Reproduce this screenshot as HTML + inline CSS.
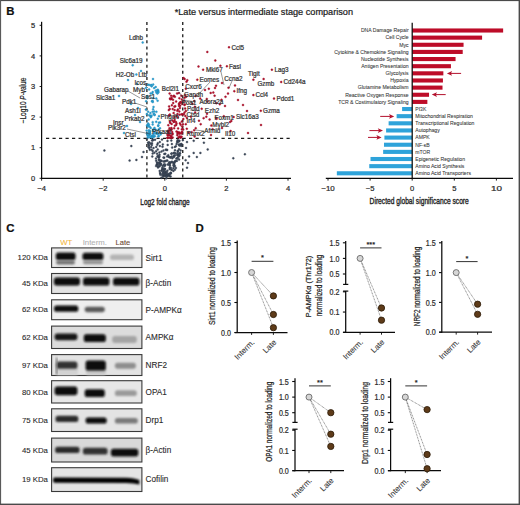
<!DOCTYPE html>
<html><head><meta charset="utf-8"><style>
html,body{margin:0;padding:0;background:#fff;}
svg{display:block;}
text{font-family:"Liberation Sans",sans-serif;}
</style></head><body>
<svg width="520" height="505" viewBox="0 0 520 505">
<rect x="0.00" y="0.00" width="520.00" height="505.00" fill="#fff"/>
<rect x="0.00" y="0.00" width="520.00" height="1.10" fill="#4a4a4a"/>
<rect x="0.00" y="0.00" width="1.10" height="505.00" fill="#5a5a5a"/>
<rect x="518.60" y="0.00" width="1.40" height="505.00" fill="#4a4a4a"/>
<rect x="0.00" y="503.60" width="520.00" height="1.40" fill="#4a4a4a"/>
<text x="6.20" y="14.70" font-size="11.4" font-weight="bold" fill="#111" stroke="#111" stroke-width="0.22">B</text>
<text x="6.20" y="232.20" font-size="11.4" font-weight="bold" fill="#111" stroke="#111" stroke-width="0.22">C</text>
<text x="195.60" y="231.90" font-size="11.4" font-weight="bold" fill="#111" stroke="#111" stroke-width="0.22">D</text>
<text x="174.70" y="14.90" font-size="8.6" textLength="178.3" lengthAdjust="spacingAndGlyphs" fill="#222" stroke="#222" stroke-width="0.22">*Late versus intermediate stage comparison</text>
<line x1="41.60" y1="21.80" x2="41.60" y2="178.80" stroke="#0a0a0a" stroke-width="1.25"/>
<line x1="41.10" y1="178.30" x2="291.00" y2="178.30" stroke="#0a0a0a" stroke-width="1.25"/>
<line x1="39.60" y1="178.30" x2="41.60" y2="178.30" stroke="#0a0a0a" stroke-width="0.9"/>
<text x="35.10" y="180.90" font-size="7.5" text-anchor="end" fill="#2a2a2a" stroke="#2a2a2a" stroke-width="0.22">0</text>
<line x1="39.60" y1="147.70" x2="41.60" y2="147.70" stroke="#0a0a0a" stroke-width="0.9"/>
<text x="35.10" y="150.30" font-size="7.5" text-anchor="end" fill="#2a2a2a" stroke="#2a2a2a" stroke-width="0.22">1</text>
<line x1="39.60" y1="117.10" x2="41.60" y2="117.10" stroke="#0a0a0a" stroke-width="0.9"/>
<text x="35.10" y="119.70" font-size="7.5" text-anchor="end" fill="#2a2a2a" stroke="#2a2a2a" stroke-width="0.22">2</text>
<line x1="39.60" y1="86.50" x2="41.60" y2="86.50" stroke="#0a0a0a" stroke-width="0.9"/>
<text x="35.10" y="89.10" font-size="7.5" text-anchor="end" fill="#2a2a2a" stroke="#2a2a2a" stroke-width="0.22">3</text>
<line x1="39.60" y1="55.90" x2="41.60" y2="55.90" stroke="#0a0a0a" stroke-width="0.9"/>
<text x="35.10" y="58.50" font-size="7.5" text-anchor="end" fill="#2a2a2a" stroke="#2a2a2a" stroke-width="0.22">4</text>
<line x1="39.60" y1="25.30" x2="41.60" y2="25.30" stroke="#0a0a0a" stroke-width="0.9"/>
<text x="35.10" y="27.90" font-size="7.5" text-anchor="end" fill="#2a2a2a" stroke="#2a2a2a" stroke-width="0.22">5</text>
<line x1="41.60" y1="178.30" x2="41.60" y2="180.70" stroke="#0a0a0a" stroke-width="0.9"/>
<text x="41.60" y="191.30" font-size="7.6" text-anchor="middle" fill="#2a2a2a" stroke="#2a2a2a" stroke-width="0.22">−4</text>
<line x1="103.20" y1="178.30" x2="103.20" y2="180.70" stroke="#0a0a0a" stroke-width="0.9"/>
<text x="103.20" y="191.30" font-size="7.6" text-anchor="middle" fill="#2a2a2a" stroke="#2a2a2a" stroke-width="0.22">−2</text>
<line x1="164.80" y1="178.30" x2="164.80" y2="180.70" stroke="#0a0a0a" stroke-width="0.9"/>
<text x="164.80" y="191.30" font-size="7.6" text-anchor="middle" fill="#2a2a2a" stroke="#2a2a2a" stroke-width="0.22">0</text>
<line x1="226.40" y1="178.30" x2="226.40" y2="180.70" stroke="#0a0a0a" stroke-width="0.9"/>
<text x="226.40" y="191.30" font-size="7.6" text-anchor="middle" fill="#2a2a2a" stroke="#2a2a2a" stroke-width="0.22">2</text>
<line x1="288.00" y1="178.30" x2="288.00" y2="180.70" stroke="#0a0a0a" stroke-width="0.9"/>
<text x="288.00" y="191.30" font-size="7.6" text-anchor="middle" fill="#2a2a2a" stroke="#2a2a2a" stroke-width="0.22">4</text>
<text x="165.00" y="204.60" font-size="8.8" text-anchor="middle" textLength="49.4" lengthAdjust="spacingAndGlyphs" fill="#222" stroke="#222" stroke-width="0.35">Log2 fold change</text>
<text x="0" y="0" font-size="8.4" fill="#222" stroke="#222" stroke-width="0.22" transform="translate(25.6 100.5) rotate(-90)" text-anchor="middle" textLength="45.5" lengthAdjust="spacingAndGlyphs">−Log10 <tspan font-style="italic">P</tspan>-value</text>
<line x1="146.90" y1="22.00" x2="146.90" y2="178.30" stroke="#1a1a1a" stroke-width="1.3" stroke-dasharray="3,3.1"/>
<line x1="182.75" y1="22.00" x2="182.75" y2="178.30" stroke="#1a1a1a" stroke-width="1.3" stroke-dasharray="3,3.1"/>
<line x1="46.00" y1="138.30" x2="291.00" y2="138.30" stroke="#1a1a1a" stroke-width="1.3" stroke-dasharray="3.2,3.3"/>
<circle cx="169.2" cy="162.3" r="1.0" fill="#3d4a5c" stroke="#2e3846" stroke-width="0.35"/>
<circle cx="167.3" cy="160.6" r="1.0" fill="#3d4a5c" stroke="#2e3846" stroke-width="0.35"/>
<circle cx="163.7" cy="175.4" r="1.0" fill="#3d4a5c" stroke="#2e3846" stroke-width="0.35"/>
<circle cx="162.8" cy="144.4" r="1.0" fill="#3d4a5c" stroke="#2e3846" stroke-width="0.35"/>
<circle cx="177.7" cy="151.1" r="1.0" fill="#3d4a5c" stroke="#2e3846" stroke-width="0.35"/>
<circle cx="162.1" cy="174.9" r="1.0" fill="#3d4a5c" stroke="#2e3846" stroke-width="0.35"/>
<circle cx="164.1" cy="169.9" r="1.0" fill="#3d4a5c" stroke="#2e3846" stroke-width="0.35"/>
<circle cx="154.4" cy="152.7" r="1.0" fill="#3d4a5c" stroke="#2e3846" stroke-width="0.35"/>
<circle cx="164.3" cy="153.9" r="1.0" fill="#3d4a5c" stroke="#2e3846" stroke-width="0.35"/>
<circle cx="172.2" cy="158.3" r="1.0" fill="#3d4a5c" stroke="#2e3846" stroke-width="0.35"/>
<circle cx="170.3" cy="157.3" r="1.0" fill="#3d4a5c" stroke="#2e3846" stroke-width="0.35"/>
<circle cx="173.5" cy="153.0" r="1.0" fill="#3d4a5c" stroke="#2e3846" stroke-width="0.35"/>
<circle cx="172.2" cy="147.6" r="1.0" fill="#3d4a5c" stroke="#2e3846" stroke-width="0.35"/>
<circle cx="162.5" cy="146.7" r="1.0" fill="#3d4a5c" stroke="#2e3846" stroke-width="0.35"/>
<circle cx="167.3" cy="175.3" r="1.0" fill="#3d4a5c" stroke="#2e3846" stroke-width="0.35"/>
<circle cx="173.1" cy="162.7" r="1.0" fill="#3d4a5c" stroke="#2e3846" stroke-width="0.35"/>
<circle cx="174.5" cy="152.8" r="1.0" fill="#3d4a5c" stroke="#2e3846" stroke-width="0.35"/>
<circle cx="166.7" cy="149.8" r="1.0" fill="#3d4a5c" stroke="#2e3846" stroke-width="0.35"/>
<circle cx="180.6" cy="150.4" r="1.0" fill="#3d4a5c" stroke="#2e3846" stroke-width="0.35"/>
<circle cx="165.7" cy="149.7" r="1.0" fill="#3d4a5c" stroke="#2e3846" stroke-width="0.35"/>
<circle cx="163.8" cy="168.8" r="1.0" fill="#3d4a5c" stroke="#2e3846" stroke-width="0.35"/>
<circle cx="169.8" cy="165.4" r="1.0" fill="#3d4a5c" stroke="#2e3846" stroke-width="0.35"/>
<circle cx="170.5" cy="173.0" r="1.0" fill="#3d4a5c" stroke="#2e3846" stroke-width="0.35"/>
<circle cx="157.8" cy="143.2" r="1.0" fill="#3d4a5c" stroke="#2e3846" stroke-width="0.35"/>
<circle cx="176.9" cy="160.9" r="1.0" fill="#3d4a5c" stroke="#2e3846" stroke-width="0.35"/>
<circle cx="162.7" cy="166.0" r="1.0" fill="#3d4a5c" stroke="#2e3846" stroke-width="0.35"/>
<circle cx="159.4" cy="152.4" r="1.0" fill="#3d4a5c" stroke="#2e3846" stroke-width="0.35"/>
<circle cx="180.0" cy="153.3" r="1.0" fill="#3d4a5c" stroke="#2e3846" stroke-width="0.35"/>
<circle cx="177.2" cy="155.1" r="1.0" fill="#3d4a5c" stroke="#2e3846" stroke-width="0.35"/>
<circle cx="181.2" cy="145.9" r="1.0" fill="#3d4a5c" stroke="#2e3846" stroke-width="0.35"/>
<circle cx="159.1" cy="159.6" r="1.0" fill="#3d4a5c" stroke="#2e3846" stroke-width="0.35"/>
<circle cx="163.3" cy="173.7" r="1.0" fill="#3d4a5c" stroke="#2e3846" stroke-width="0.35"/>
<circle cx="164.6" cy="161.6" r="1.0" fill="#3d4a5c" stroke="#2e3846" stroke-width="0.35"/>
<circle cx="166.5" cy="160.7" r="1.0" fill="#3d4a5c" stroke="#2e3846" stroke-width="0.35"/>
<circle cx="161.5" cy="151.6" r="1.0" fill="#3d4a5c" stroke="#2e3846" stroke-width="0.35"/>
<circle cx="173.4" cy="170.9" r="1.0" fill="#3d4a5c" stroke="#2e3846" stroke-width="0.35"/>
<circle cx="158.6" cy="156.9" r="1.0" fill="#3d4a5c" stroke="#2e3846" stroke-width="0.35"/>
<circle cx="156.7" cy="164.7" r="1.0" fill="#3d4a5c" stroke="#2e3846" stroke-width="0.35"/>
<circle cx="170.6" cy="176.4" r="1.0" fill="#3d4a5c" stroke="#2e3846" stroke-width="0.35"/>
<circle cx="169.3" cy="176.1" r="1.0" fill="#3d4a5c" stroke="#2e3846" stroke-width="0.35"/>
<circle cx="152.0" cy="143.2" r="1.0" fill="#3d4a5c" stroke="#2e3846" stroke-width="0.35"/>
<circle cx="175.9" cy="146.2" r="1.0" fill="#3d4a5c" stroke="#2e3846" stroke-width="0.35"/>
<circle cx="171.1" cy="162.1" r="1.0" fill="#3d4a5c" stroke="#2e3846" stroke-width="0.35"/>
<circle cx="179.6" cy="145.1" r="1.0" fill="#3d4a5c" stroke="#2e3846" stroke-width="0.35"/>
<circle cx="159.6" cy="166.3" r="1.0" fill="#3d4a5c" stroke="#2e3846" stroke-width="0.35"/>
<circle cx="169.2" cy="164.1" r="1.0" fill="#3d4a5c" stroke="#2e3846" stroke-width="0.35"/>
<circle cx="177.6" cy="140.2" r="1.0" fill="#3d4a5c" stroke="#2e3846" stroke-width="0.35"/>
<circle cx="161.5" cy="160.7" r="1.0" fill="#3d4a5c" stroke="#2e3846" stroke-width="0.35"/>
<circle cx="169.8" cy="167.6" r="1.0" fill="#3d4a5c" stroke="#2e3846" stroke-width="0.35"/>
<circle cx="174.0" cy="156.4" r="1.0" fill="#3d4a5c" stroke="#2e3846" stroke-width="0.35"/>
<circle cx="170.8" cy="172.8" r="1.0" fill="#3d4a5c" stroke="#2e3846" stroke-width="0.35"/>
<circle cx="167.1" cy="156.4" r="1.0" fill="#3d4a5c" stroke="#2e3846" stroke-width="0.35"/>
<circle cx="174.5" cy="161.9" r="1.0" fill="#3d4a5c" stroke="#2e3846" stroke-width="0.35"/>
<circle cx="152.1" cy="140.5" r="1.0" fill="#3d4a5c" stroke="#2e3846" stroke-width="0.35"/>
<circle cx="167.4" cy="170.7" r="1.0" fill="#3d4a5c" stroke="#2e3846" stroke-width="0.35"/>
<circle cx="181.7" cy="144.4" r="1.0" fill="#3d4a5c" stroke="#2e3846" stroke-width="0.35"/>
<circle cx="160.8" cy="161.2" r="1.0" fill="#3d4a5c" stroke="#2e3846" stroke-width="0.35"/>
<circle cx="175.0" cy="150.3" r="1.0" fill="#3d4a5c" stroke="#2e3846" stroke-width="0.35"/>
<circle cx="177.4" cy="158.1" r="1.0" fill="#3d4a5c" stroke="#2e3846" stroke-width="0.35"/>
<circle cx="169.8" cy="163.5" r="1.0" fill="#3d4a5c" stroke="#2e3846" stroke-width="0.35"/>
<circle cx="160.9" cy="164.9" r="1.0" fill="#3d4a5c" stroke="#2e3846" stroke-width="0.35"/>
<circle cx="173.6" cy="157.2" r="1.0" fill="#3d4a5c" stroke="#2e3846" stroke-width="0.35"/>
<circle cx="176.3" cy="158.6" r="1.0" fill="#3d4a5c" stroke="#2e3846" stroke-width="0.35"/>
<circle cx="163.0" cy="176.7" r="1.0" fill="#3d4a5c" stroke="#2e3846" stroke-width="0.35"/>
<circle cx="161.4" cy="177.8" r="1.0" fill="#3d4a5c" stroke="#2e3846" stroke-width="0.35"/>
<circle cx="171.6" cy="153.6" r="1.0" fill="#3d4a5c" stroke="#2e3846" stroke-width="0.35"/>
<circle cx="152.7" cy="153.6" r="1.0" fill="#3d4a5c" stroke="#2e3846" stroke-width="0.35"/>
<circle cx="174.1" cy="164.2" r="1.0" fill="#3d4a5c" stroke="#2e3846" stroke-width="0.35"/>
<circle cx="175.8" cy="153.4" r="1.0" fill="#3d4a5c" stroke="#2e3846" stroke-width="0.35"/>
<circle cx="174.1" cy="155.4" r="1.0" fill="#3d4a5c" stroke="#2e3846" stroke-width="0.35"/>
<circle cx="158.9" cy="157.4" r="1.0" fill="#3d4a5c" stroke="#2e3846" stroke-width="0.35"/>
<circle cx="148.1" cy="142.8" r="1.0" fill="#3d4a5c" stroke="#2e3846" stroke-width="0.35"/>
<circle cx="179.7" cy="153.5" r="1.0" fill="#3d4a5c" stroke="#2e3846" stroke-width="0.35"/>
<circle cx="164.2" cy="157.8" r="1.0" fill="#3d4a5c" stroke="#2e3846" stroke-width="0.35"/>
<circle cx="170.8" cy="173.4" r="1.0" fill="#3d4a5c" stroke="#2e3846" stroke-width="0.35"/>
<circle cx="153.5" cy="148.1" r="1.0" fill="#3d4a5c" stroke="#2e3846" stroke-width="0.35"/>
<circle cx="149.4" cy="142.6" r="1.0" fill="#3d4a5c" stroke="#2e3846" stroke-width="0.35"/>
<circle cx="178.8" cy="156.1" r="1.0" fill="#3d4a5c" stroke="#2e3846" stroke-width="0.35"/>
<circle cx="169.6" cy="169.1" r="1.0" fill="#3d4a5c" stroke="#2e3846" stroke-width="0.35"/>
<circle cx="157.0" cy="162.5" r="1.0" fill="#3d4a5c" stroke="#2e3846" stroke-width="0.35"/>
<circle cx="157.1" cy="153.7" r="1.0" fill="#3d4a5c" stroke="#2e3846" stroke-width="0.35"/>
<circle cx="168.3" cy="155.2" r="1.0" fill="#3d4a5c" stroke="#2e3846" stroke-width="0.35"/>
<circle cx="149.0" cy="145.7" r="1.0" fill="#3d4a5c" stroke="#2e3846" stroke-width="0.35"/>
<circle cx="159.9" cy="146.0" r="1.0" fill="#3d4a5c" stroke="#2e3846" stroke-width="0.35"/>
<circle cx="177.5" cy="158.5" r="1.0" fill="#3d4a5c" stroke="#2e3846" stroke-width="0.35"/>
<circle cx="177.4" cy="141.4" r="1.0" fill="#3d4a5c" stroke="#2e3846" stroke-width="0.35"/>
<circle cx="165.8" cy="172.6" r="1.0" fill="#3d4a5c" stroke="#2e3846" stroke-width="0.35"/>
<circle cx="178.1" cy="140.8" r="1.0" fill="#3d4a5c" stroke="#2e3846" stroke-width="0.35"/>
<circle cx="160.0" cy="172.9" r="1.0" fill="#3d4a5c" stroke="#2e3846" stroke-width="0.35"/>
<circle cx="172.0" cy="161.7" r="1.0" fill="#3d4a5c" stroke="#2e3846" stroke-width="0.35"/>
<circle cx="167.6" cy="164.5" r="1.0" fill="#3d4a5c" stroke="#2e3846" stroke-width="0.35"/>
<circle cx="165.1" cy="169.1" r="1.0" fill="#3d4a5c" stroke="#2e3846" stroke-width="0.35"/>
<circle cx="169.6" cy="162.8" r="1.0" fill="#3d4a5c" stroke="#2e3846" stroke-width="0.35"/>
<circle cx="162.7" cy="168.4" r="1.0" fill="#3d4a5c" stroke="#2e3846" stroke-width="0.35"/>
<circle cx="165.1" cy="165.3" r="1.0" fill="#3d4a5c" stroke="#2e3846" stroke-width="0.35"/>
<circle cx="152.3" cy="156.5" r="1.0" fill="#3d4a5c" stroke="#2e3846" stroke-width="0.35"/>
<circle cx="157.3" cy="144.7" r="1.0" fill="#3d4a5c" stroke="#2e3846" stroke-width="0.35"/>
<circle cx="174.9" cy="155.4" r="1.0" fill="#3d4a5c" stroke="#2e3846" stroke-width="0.35"/>
<circle cx="175.1" cy="161.5" r="1.0" fill="#3d4a5c" stroke="#2e3846" stroke-width="0.35"/>
<circle cx="163.4" cy="161.4" r="1.0" fill="#3d4a5c" stroke="#2e3846" stroke-width="0.35"/>
<circle cx="160.5" cy="173.6" r="1.0" fill="#3d4a5c" stroke="#2e3846" stroke-width="0.35"/>
<circle cx="181.2" cy="143.9" r="1.0" fill="#3d4a5c" stroke="#2e3846" stroke-width="0.35"/>
<circle cx="161.2" cy="164.0" r="1.0" fill="#3d4a5c" stroke="#2e3846" stroke-width="0.35"/>
<circle cx="170.2" cy="157.6" r="1.0" fill="#3d4a5c" stroke="#2e3846" stroke-width="0.35"/>
<circle cx="155.0" cy="139.7" r="1.0" fill="#3d4a5c" stroke="#2e3846" stroke-width="0.35"/>
<circle cx="165.2" cy="161.0" r="1.0" fill="#3d4a5c" stroke="#2e3846" stroke-width="0.35"/>
<circle cx="157.4" cy="156.6" r="1.0" fill="#3d4a5c" stroke="#2e3846" stroke-width="0.35"/>
<circle cx="163.8" cy="164.7" r="1.0" fill="#3d4a5c" stroke="#2e3846" stroke-width="0.35"/>
<circle cx="165.3" cy="175.2" r="1.0" fill="#3d4a5c" stroke="#2e3846" stroke-width="0.35"/>
<circle cx="178.2" cy="154.6" r="1.0" fill="#3d4a5c" stroke="#2e3846" stroke-width="0.35"/>
<circle cx="149.4" cy="148.1" r="1.0" fill="#3d4a5c" stroke="#2e3846" stroke-width="0.35"/>
<circle cx="174.9" cy="169.7" r="1.0" fill="#3d4a5c" stroke="#2e3846" stroke-width="0.35"/>
<circle cx="169.0" cy="175.1" r="1.0" fill="#3d4a5c" stroke="#2e3846" stroke-width="0.35"/>
<circle cx="167.7" cy="144.9" r="1.0" fill="#3d4a5c" stroke="#2e3846" stroke-width="0.35"/>
<circle cx="178.2" cy="155.5" r="1.0" fill="#3d4a5c" stroke="#2e3846" stroke-width="0.35"/>
<circle cx="177.2" cy="142.2" r="1.0" fill="#3d4a5c" stroke="#2e3846" stroke-width="0.35"/>
<circle cx="164.5" cy="166.1" r="1.0" fill="#3d4a5c" stroke="#2e3846" stroke-width="0.35"/>
<circle cx="176.6" cy="144.1" r="1.0" fill="#3d4a5c" stroke="#2e3846" stroke-width="0.35"/>
<circle cx="156.1" cy="151.2" r="1.0" fill="#3d4a5c" stroke="#2e3846" stroke-width="0.35"/>
<circle cx="174.9" cy="147.0" r="1.0" fill="#3d4a5c" stroke="#2e3846" stroke-width="0.35"/>
<circle cx="167.2" cy="150.0" r="1.0" fill="#3d4a5c" stroke="#2e3846" stroke-width="0.35"/>
<circle cx="157.4" cy="164.6" r="1.0" fill="#3d4a5c" stroke="#2e3846" stroke-width="0.35"/>
<circle cx="148.5" cy="147.3" r="1.0" fill="#3d4a5c" stroke="#2e3846" stroke-width="0.35"/>
<circle cx="179.0" cy="149.2" r="1.0" fill="#3d4a5c" stroke="#2e3846" stroke-width="0.35"/>
<circle cx="163.4" cy="150.6" r="1.0" fill="#3d4a5c" stroke="#2e3846" stroke-width="0.35"/>
<circle cx="159.9" cy="163.1" r="1.0" fill="#3d4a5c" stroke="#2e3846" stroke-width="0.35"/>
<circle cx="167.0" cy="174.1" r="1.0" fill="#3d4a5c" stroke="#2e3846" stroke-width="0.35"/>
<circle cx="157.3" cy="163.6" r="1.0" fill="#3d4a5c" stroke="#2e3846" stroke-width="0.35"/>
<circle cx="168.8" cy="156.9" r="1.0" fill="#3d4a5c" stroke="#2e3846" stroke-width="0.35"/>
<circle cx="167.5" cy="140.9" r="1.0" fill="#3d4a5c" stroke="#2e3846" stroke-width="0.35"/>
<circle cx="148.7" cy="144.6" r="1.0" fill="#3d4a5c" stroke="#2e3846" stroke-width="0.35"/>
<circle cx="171.3" cy="140.6" r="1.0" fill="#3d4a5c" stroke="#2e3846" stroke-width="0.35"/>
<circle cx="171.8" cy="170.0" r="1.0" fill="#3d4a5c" stroke="#2e3846" stroke-width="0.35"/>
<circle cx="179.7" cy="155.3" r="1.0" fill="#3d4a5c" stroke="#2e3846" stroke-width="0.35"/>
<circle cx="156.1" cy="166.1" r="1.0" fill="#3d4a5c" stroke="#2e3846" stroke-width="0.35"/>
<circle cx="158.1" cy="155.9" r="1.0" fill="#3d4a5c" stroke="#2e3846" stroke-width="0.35"/>
<circle cx="161.8" cy="170.1" r="1.0" fill="#3d4a5c" stroke="#2e3846" stroke-width="0.35"/>
<circle cx="151.1" cy="146.9" r="1.0" fill="#3d4a5c" stroke="#2e3846" stroke-width="0.35"/>
<circle cx="178.8" cy="141.2" r="1.0" fill="#3d4a5c" stroke="#2e3846" stroke-width="0.35"/>
<circle cx="179.1" cy="159.6" r="1.0" fill="#3d4a5c" stroke="#2e3846" stroke-width="0.35"/>
<circle cx="159.7" cy="160.8" r="1.0" fill="#3d4a5c" stroke="#2e3846" stroke-width="0.35"/>
<circle cx="171.9" cy="144.1" r="1.0" fill="#3d4a5c" stroke="#2e3846" stroke-width="0.35"/>
<circle cx="169.5" cy="165.3" r="1.0" fill="#3d4a5c" stroke="#2e3846" stroke-width="0.35"/>
<circle cx="182.8" cy="140.2" r="1.0" fill="#3d4a5c" stroke="#2e3846" stroke-width="0.35"/>
<circle cx="178.0" cy="151.0" r="1.0" fill="#3d4a5c" stroke="#2e3846" stroke-width="0.35"/>
<circle cx="160.4" cy="174.7" r="1.0" fill="#3d4a5c" stroke="#2e3846" stroke-width="0.35"/>
<circle cx="156.2" cy="146.9" r="1.0" fill="#3d4a5c" stroke="#2e3846" stroke-width="0.35"/>
<circle cx="161.7" cy="170.7" r="1.0" fill="#3d4a5c" stroke="#2e3846" stroke-width="0.35"/>
<circle cx="174.2" cy="163.3" r="1.0" fill="#3d4a5c" stroke="#2e3846" stroke-width="0.35"/>
<circle cx="159.8" cy="163.2" r="1.0" fill="#3d4a5c" stroke="#2e3846" stroke-width="0.35"/>
<circle cx="164.4" cy="168.9" r="1.0" fill="#3d4a5c" stroke="#2e3846" stroke-width="0.35"/>
<circle cx="174.0" cy="166.5" r="1.0" fill="#3d4a5c" stroke="#2e3846" stroke-width="0.35"/>
<circle cx="163.5" cy="157.5" r="1.0" fill="#3d4a5c" stroke="#2e3846" stroke-width="0.35"/>
<circle cx="163.6" cy="172.5" r="1.0" fill="#3d4a5c" stroke="#2e3846" stroke-width="0.35"/>
<circle cx="177.8" cy="153.1" r="1.0" fill="#3d4a5c" stroke="#2e3846" stroke-width="0.35"/>
<circle cx="159.5" cy="154.8" r="1.0" fill="#3d4a5c" stroke="#2e3846" stroke-width="0.35"/>
<circle cx="168.6" cy="174.0" r="1.0" fill="#3d4a5c" stroke="#2e3846" stroke-width="0.35"/>
<circle cx="152.7" cy="151.0" r="1.0" fill="#3d4a5c" stroke="#2e3846" stroke-width="0.35"/>
<circle cx="159.3" cy="164.4" r="1.0" fill="#3d4a5c" stroke="#2e3846" stroke-width="0.35"/>
<circle cx="150.8" cy="143.7" r="1.0" fill="#3d4a5c" stroke="#2e3846" stroke-width="0.35"/>
<circle cx="167.8" cy="175.8" r="1.0" fill="#3d4a5c" stroke="#2e3846" stroke-width="0.35"/>
<circle cx="166.4" cy="178.3" r="1.0" fill="#3d4a5c" stroke="#2e3846" stroke-width="0.35"/>
<circle cx="180.5" cy="144.4" r="1.0" fill="#3d4a5c" stroke="#2e3846" stroke-width="0.35"/>
<circle cx="171.2" cy="169.4" r="1.0" fill="#3d4a5c" stroke="#2e3846" stroke-width="0.35"/>
<circle cx="179.4" cy="140.7" r="1.0" fill="#3d4a5c" stroke="#2e3846" stroke-width="0.35"/>
<circle cx="165.3" cy="153.8" r="1.0" fill="#3d4a5c" stroke="#2e3846" stroke-width="0.35"/>
<circle cx="174.9" cy="166.0" r="1.0" fill="#3d4a5c" stroke="#2e3846" stroke-width="0.35"/>
<circle cx="173.4" cy="165.2" r="1.0" fill="#3d4a5c" stroke="#2e3846" stroke-width="0.35"/>
<circle cx="165.4" cy="171.4" r="1.0" fill="#3d4a5c" stroke="#2e3846" stroke-width="0.35"/>
<circle cx="158.1" cy="166.4" r="1.0" fill="#3d4a5c" stroke="#2e3846" stroke-width="0.35"/>
<circle cx="170.2" cy="163.2" r="1.0" fill="#3d4a5c" stroke="#2e3846" stroke-width="0.35"/>
<circle cx="159.4" cy="156.5" r="1.0" fill="#3d4a5c" stroke="#2e3846" stroke-width="0.35"/>
<circle cx="152.9" cy="140.1" r="1.0" fill="#3d4a5c" stroke="#2e3846" stroke-width="0.35"/>
<circle cx="157.7" cy="149.5" r="1.0" fill="#3d4a5c" stroke="#2e3846" stroke-width="0.35"/>
<circle cx="151.6" cy="149.7" r="1.0" fill="#3d4a5c" stroke="#2e3846" stroke-width="0.35"/>
<circle cx="156.0" cy="158.6" r="1.0" fill="#3d4a5c" stroke="#2e3846" stroke-width="0.35"/>
<circle cx="179.4" cy="145.4" r="1.0" fill="#3d4a5c" stroke="#2e3846" stroke-width="0.35"/>
<circle cx="158.3" cy="162.8" r="1.0" fill="#3d4a5c" stroke="#2e3846" stroke-width="0.35"/>
<circle cx="158.5" cy="166.5" r="1.0" fill="#3d4a5c" stroke="#2e3846" stroke-width="0.35"/>
<circle cx="162.2" cy="168.0" r="1.0" fill="#3d4a5c" stroke="#2e3846" stroke-width="0.35"/>
<circle cx="149.8" cy="149.8" r="1.0" fill="#3d4a5c" stroke="#2e3846" stroke-width="0.35"/>
<circle cx="162.0" cy="139.6" r="1.0" fill="#3d4a5c" stroke="#2e3846" stroke-width="0.35"/>
<circle cx="169.7" cy="174.1" r="1.0" fill="#3d4a5c" stroke="#2e3846" stroke-width="0.35"/>
<circle cx="146.8" cy="138.9" r="1.0" fill="#3d4a5c" stroke="#2e3846" stroke-width="0.35"/>
<circle cx="175.9" cy="168.0" r="1.0" fill="#3d4a5c" stroke="#2e3846" stroke-width="0.35"/>
<circle cx="160.1" cy="160.2" r="1.0" fill="#3d4a5c" stroke="#2e3846" stroke-width="0.35"/>
<circle cx="163.7" cy="168.8" r="1.0" fill="#3d4a5c" stroke="#2e3846" stroke-width="0.35"/>
<circle cx="159.7" cy="170.9" r="1.0" fill="#3d4a5c" stroke="#2e3846" stroke-width="0.35"/>
<circle cx="175.5" cy="161.0" r="1.0" fill="#3d4a5c" stroke="#2e3846" stroke-width="0.35"/>
<circle cx="171.8" cy="156.6" r="1.0" fill="#3d4a5c" stroke="#2e3846" stroke-width="0.35"/>
<circle cx="170.8" cy="167.7" r="1.0" fill="#3d4a5c" stroke="#2e3846" stroke-width="0.35"/>
<circle cx="151.9" cy="144.9" r="1.0" fill="#3d4a5c" stroke="#2e3846" stroke-width="0.35"/>
<circle cx="165.9" cy="175.6" r="1.0" fill="#3d4a5c" stroke="#2e3846" stroke-width="0.35"/>
<circle cx="159.8" cy="142.1" r="1.0" fill="#3d4a5c" stroke="#2e3846" stroke-width="0.35"/>
<circle cx="152.9" cy="140.2" r="1.0" fill="#3d4a5c" stroke="#2e3846" stroke-width="0.35"/>
<circle cx="164.6" cy="164.2" r="1.0" fill="#3d4a5c" stroke="#2e3846" stroke-width="0.35"/>
<circle cx="178.6" cy="141.5" r="1.0" fill="#3d4a5c" stroke="#2e3846" stroke-width="0.35"/>
<circle cx="178.7" cy="156.5" r="1.0" fill="#3d4a5c" stroke="#2e3846" stroke-width="0.35"/>
<circle cx="158.8" cy="159.8" r="1.0" fill="#3d4a5c" stroke="#2e3846" stroke-width="0.35"/>
<circle cx="173.4" cy="168.2" r="1.0" fill="#3d4a5c" stroke="#2e3846" stroke-width="0.35"/>
<circle cx="178.9" cy="144.5" r="1.0" fill="#3d4a5c" stroke="#2e3846" stroke-width="0.35"/>
<circle cx="156.2" cy="160.8" r="1.0" fill="#3d4a5c" stroke="#2e3846" stroke-width="0.35"/>
<circle cx="158.0" cy="167.5" r="1.0" fill="#3d4a5c" stroke="#2e3846" stroke-width="0.35"/>
<circle cx="171.4" cy="153.7" r="1.0" fill="#3d4a5c" stroke="#2e3846" stroke-width="0.35"/>
<circle cx="148.4" cy="142.6" r="1.0" fill="#3d4a5c" stroke="#2e3846" stroke-width="0.35"/>
<circle cx="165.1" cy="173.7" r="1.0" fill="#3d4a5c" stroke="#2e3846" stroke-width="0.35"/>
<circle cx="163.7" cy="171.8" r="1.0" fill="#3d4a5c" stroke="#2e3846" stroke-width="0.35"/>
<circle cx="165.2" cy="174.5" r="1.0" fill="#3d4a5c" stroke="#2e3846" stroke-width="0.35"/>
<circle cx="163.6" cy="172.6" r="1.0" fill="#3d4a5c" stroke="#2e3846" stroke-width="0.35"/>
<circle cx="162.5" cy="170.5" r="1.0" fill="#3d4a5c" stroke="#2e3846" stroke-width="0.35"/>
<circle cx="166.9" cy="172.2" r="1.0" fill="#3d4a5c" stroke="#2e3846" stroke-width="0.35"/>
<circle cx="166.8" cy="175.6" r="1.0" fill="#3d4a5c" stroke="#2e3846" stroke-width="0.35"/>
<circle cx="163.0" cy="173.1" r="1.0" fill="#3d4a5c" stroke="#2e3846" stroke-width="0.35"/>
<circle cx="166.6" cy="176.5" r="1.0" fill="#3d4a5c" stroke="#2e3846" stroke-width="0.35"/>
<circle cx="164.8" cy="176.0" r="1.0" fill="#3d4a5c" stroke="#2e3846" stroke-width="0.35"/>
<circle cx="104.4" cy="150.5" r="1.0" fill="#3d4a5c" stroke="#2e3846" stroke-width="0.35"/>
<circle cx="131.3" cy="146.1" r="1.0" fill="#3d4a5c" stroke="#2e3846" stroke-width="0.35"/>
<circle cx="129.6" cy="160.6" r="1.0" fill="#3d4a5c" stroke="#2e3846" stroke-width="0.35"/>
<circle cx="136.4" cy="159.9" r="1.0" fill="#3d4a5c" stroke="#2e3846" stroke-width="0.35"/>
<circle cx="143.5" cy="152.0" r="1.0" fill="#3d4a5c" stroke="#2e3846" stroke-width="0.35"/>
<circle cx="142.0" cy="157.0" r="1.0" fill="#3d4a5c" stroke="#2e3846" stroke-width="0.35"/>
<circle cx="187.0" cy="142.1" r="1.0" fill="#3d4a5c" stroke="#2e3846" stroke-width="0.35"/>
<circle cx="193.7" cy="140.8" r="1.0" fill="#3d4a5c" stroke="#2e3846" stroke-width="0.35"/>
<circle cx="189.1" cy="156.4" r="1.0" fill="#3d4a5c" stroke="#2e3846" stroke-width="0.35"/>
<circle cx="193.7" cy="152.9" r="1.0" fill="#3d4a5c" stroke="#2e3846" stroke-width="0.35"/>
<circle cx="196.9" cy="157.0" r="1.0" fill="#3d4a5c" stroke="#2e3846" stroke-width="0.35"/>
<circle cx="200.4" cy="152.9" r="1.0" fill="#3d4a5c" stroke="#2e3846" stroke-width="0.35"/>
<circle cx="207.7" cy="149.4" r="1.0" fill="#3d4a5c" stroke="#2e3846" stroke-width="0.35"/>
<circle cx="203.9" cy="142.7" r="1.0" fill="#3d4a5c" stroke="#2e3846" stroke-width="0.35"/>
<circle cx="185.6" cy="160.2" r="1.0" fill="#3d4a5c" stroke="#2e3846" stroke-width="0.35"/>
<circle cx="187.0" cy="167.7" r="1.0" fill="#3d4a5c" stroke="#2e3846" stroke-width="0.35"/>
<circle cx="233.3" cy="158.3" r="1.0" fill="#3d4a5c" stroke="#2e3846" stroke-width="0.35"/>
<circle cx="244.9" cy="154.3" r="1.0" fill="#3d4a5c" stroke="#2e3846" stroke-width="0.35"/>
<circle cx="186.0" cy="148.0" r="1.0" fill="#3d4a5c" stroke="#2e3846" stroke-width="0.35"/>
<circle cx="188.0" cy="163.0" r="1.0" fill="#3d4a5c" stroke="#2e3846" stroke-width="0.35"/>
<circle cx="150.6" cy="93.4" r="1.0" fill="#2aa4d6" stroke="#1f7fae" stroke-width="0.35"/>
<circle cx="154.5" cy="127.9" r="1.0" fill="#2aa4d6" stroke="#1f7fae" stroke-width="0.35"/>
<circle cx="151.3" cy="85.0" r="1.0" fill="#2aa4d6" stroke="#1f7fae" stroke-width="0.35"/>
<circle cx="149.1" cy="131.9" r="1.0" fill="#2aa4d6" stroke="#1f7fae" stroke-width="0.35"/>
<circle cx="145.9" cy="109.6" r="1.0" fill="#2aa4d6" stroke="#1f7fae" stroke-width="0.35"/>
<circle cx="153.8" cy="136.2" r="1.0" fill="#2aa4d6" stroke="#1f7fae" stroke-width="0.35"/>
<circle cx="147.4" cy="98.2" r="1.0" fill="#2aa4d6" stroke="#1f7fae" stroke-width="0.35"/>
<circle cx="158.4" cy="91.1" r="1.0" fill="#2aa4d6" stroke="#1f7fae" stroke-width="0.35"/>
<circle cx="158.6" cy="129.4" r="1.0" fill="#2aa4d6" stroke="#1f7fae" stroke-width="0.35"/>
<circle cx="147.1" cy="133.5" r="1.0" fill="#2aa4d6" stroke="#1f7fae" stroke-width="0.35"/>
<circle cx="146.8" cy="114.1" r="1.0" fill="#2aa4d6" stroke="#1f7fae" stroke-width="0.35"/>
<circle cx="148.1" cy="125.7" r="1.0" fill="#2aa4d6" stroke="#1f7fae" stroke-width="0.35"/>
<circle cx="156.2" cy="121.8" r="1.0" fill="#2aa4d6" stroke="#1f7fae" stroke-width="0.35"/>
<circle cx="146.1" cy="101.2" r="1.0" fill="#2aa4d6" stroke="#1f7fae" stroke-width="0.35"/>
<circle cx="152.1" cy="136.1" r="1.0" fill="#2aa4d6" stroke="#1f7fae" stroke-width="0.35"/>
<circle cx="156.4" cy="111.8" r="1.0" fill="#2aa4d6" stroke="#1f7fae" stroke-width="0.35"/>
<circle cx="158.2" cy="125.9" r="1.0" fill="#2aa4d6" stroke="#1f7fae" stroke-width="0.35"/>
<circle cx="156.7" cy="133.0" r="1.0" fill="#2aa4d6" stroke="#1f7fae" stroke-width="0.35"/>
<circle cx="150.4" cy="113.1" r="1.0" fill="#2aa4d6" stroke="#1f7fae" stroke-width="0.35"/>
<circle cx="160.6" cy="133.0" r="1.0" fill="#2aa4d6" stroke="#1f7fae" stroke-width="0.35"/>
<circle cx="150.7" cy="127.9" r="1.0" fill="#2aa4d6" stroke="#1f7fae" stroke-width="0.35"/>
<circle cx="155.9" cy="133.6" r="1.0" fill="#2aa4d6" stroke="#1f7fae" stroke-width="0.35"/>
<circle cx="149.4" cy="133.0" r="1.0" fill="#2aa4d6" stroke="#1f7fae" stroke-width="0.35"/>
<circle cx="159.0" cy="116.2" r="1.0" fill="#2aa4d6" stroke="#1f7fae" stroke-width="0.35"/>
<circle cx="154.9" cy="136.2" r="1.0" fill="#2aa4d6" stroke="#1f7fae" stroke-width="0.35"/>
<circle cx="150.7" cy="116.1" r="1.0" fill="#2aa4d6" stroke="#1f7fae" stroke-width="0.35"/>
<circle cx="158.2" cy="136.4" r="1.0" fill="#2aa4d6" stroke="#1f7fae" stroke-width="0.35"/>
<circle cx="153.5" cy="106.9" r="1.0" fill="#2aa4d6" stroke="#1f7fae" stroke-width="0.35"/>
<circle cx="155.9" cy="129.8" r="1.0" fill="#2aa4d6" stroke="#1f7fae" stroke-width="0.35"/>
<circle cx="154.1" cy="88.1" r="1.0" fill="#2aa4d6" stroke="#1f7fae" stroke-width="0.35"/>
<circle cx="154.6" cy="115.1" r="1.0" fill="#2aa4d6" stroke="#1f7fae" stroke-width="0.35"/>
<circle cx="148.1" cy="123.5" r="1.0" fill="#2aa4d6" stroke="#1f7fae" stroke-width="0.35"/>
<circle cx="153.2" cy="84.6" r="1.0" fill="#2aa4d6" stroke="#1f7fae" stroke-width="0.35"/>
<circle cx="150.2" cy="133.2" r="1.0" fill="#2aa4d6" stroke="#1f7fae" stroke-width="0.35"/>
<circle cx="160.7" cy="133.0" r="1.0" fill="#2aa4d6" stroke="#1f7fae" stroke-width="0.35"/>
<circle cx="152.7" cy="92.1" r="1.0" fill="#2aa4d6" stroke="#1f7fae" stroke-width="0.35"/>
<circle cx="153.2" cy="98.1" r="1.0" fill="#2aa4d6" stroke="#1f7fae" stroke-width="0.35"/>
<circle cx="152.2" cy="93.5" r="1.0" fill="#2aa4d6" stroke="#1f7fae" stroke-width="0.35"/>
<circle cx="160.6" cy="134.4" r="1.0" fill="#2aa4d6" stroke="#1f7fae" stroke-width="0.35"/>
<circle cx="150.7" cy="116.0" r="1.0" fill="#2aa4d6" stroke="#1f7fae" stroke-width="0.35"/>
<circle cx="157.6" cy="91.4" r="1.0" fill="#2aa4d6" stroke="#1f7fae" stroke-width="0.35"/>
<circle cx="154.2" cy="111.6" r="1.0" fill="#2aa4d6" stroke="#1f7fae" stroke-width="0.35"/>
<circle cx="157.8" cy="118.7" r="1.0" fill="#2aa4d6" stroke="#1f7fae" stroke-width="0.35"/>
<circle cx="152.9" cy="129.8" r="1.0" fill="#2aa4d6" stroke="#1f7fae" stroke-width="0.35"/>
<circle cx="157.2" cy="90.2" r="1.0" fill="#2aa4d6" stroke="#1f7fae" stroke-width="0.35"/>
<circle cx="148.7" cy="119.5" r="1.0" fill="#2aa4d6" stroke="#1f7fae" stroke-width="0.35"/>
<circle cx="155.7" cy="87.0" r="1.0" fill="#2aa4d6" stroke="#1f7fae" stroke-width="0.35"/>
<circle cx="147.5" cy="135.5" r="1.0" fill="#2aa4d6" stroke="#1f7fae" stroke-width="0.35"/>
<circle cx="151.6" cy="86.3" r="1.0" fill="#2aa4d6" stroke="#1f7fae" stroke-width="0.35"/>
<circle cx="147.8" cy="137.2" r="1.0" fill="#2aa4d6" stroke="#1f7fae" stroke-width="0.35"/>
<circle cx="147.6" cy="125.0" r="1.0" fill="#2aa4d6" stroke="#1f7fae" stroke-width="0.35"/>
<circle cx="148.1" cy="111.7" r="1.0" fill="#2aa4d6" stroke="#1f7fae" stroke-width="0.35"/>
<circle cx="149.5" cy="134.5" r="1.0" fill="#2aa4d6" stroke="#1f7fae" stroke-width="0.35"/>
<circle cx="154.6" cy="132.3" r="1.0" fill="#2aa4d6" stroke="#1f7fae" stroke-width="0.35"/>
<circle cx="147.4" cy="96.2" r="1.0" fill="#2aa4d6" stroke="#1f7fae" stroke-width="0.35"/>
<circle cx="157.3" cy="133.7" r="1.0" fill="#2aa4d6" stroke="#1f7fae" stroke-width="0.35"/>
<circle cx="152.7" cy="124.4" r="1.0" fill="#2aa4d6" stroke="#1f7fae" stroke-width="0.35"/>
<circle cx="158.4" cy="125.2" r="1.0" fill="#2aa4d6" stroke="#1f7fae" stroke-width="0.35"/>
<circle cx="150.2" cy="131.3" r="1.0" fill="#2aa4d6" stroke="#1f7fae" stroke-width="0.35"/>
<circle cx="158.4" cy="92.4" r="1.0" fill="#2aa4d6" stroke="#1f7fae" stroke-width="0.35"/>
<circle cx="149.1" cy="115.3" r="1.0" fill="#2aa4d6" stroke="#1f7fae" stroke-width="0.35"/>
<circle cx="149.0" cy="137.5" r="1.0" fill="#2aa4d6" stroke="#1f7fae" stroke-width="0.35"/>
<circle cx="152.1" cy="135.7" r="1.0" fill="#2aa4d6" stroke="#1f7fae" stroke-width="0.35"/>
<circle cx="150.9" cy="116.1" r="1.0" fill="#2aa4d6" stroke="#1f7fae" stroke-width="0.35"/>
<circle cx="154.2" cy="128.8" r="1.0" fill="#2aa4d6" stroke="#1f7fae" stroke-width="0.35"/>
<circle cx="153.6" cy="114.1" r="1.0" fill="#2aa4d6" stroke="#1f7fae" stroke-width="0.35"/>
<circle cx="153.1" cy="109.3" r="1.0" fill="#2aa4d6" stroke="#1f7fae" stroke-width="0.35"/>
<circle cx="160.0" cy="122.4" r="1.0" fill="#2aa4d6" stroke="#1f7fae" stroke-width="0.35"/>
<circle cx="152.6" cy="111.8" r="1.0" fill="#2aa4d6" stroke="#1f7fae" stroke-width="0.35"/>
<circle cx="149.7" cy="131.8" r="1.0" fill="#2aa4d6" stroke="#1f7fae" stroke-width="0.35"/>
<circle cx="152.6" cy="101.0" r="1.0" fill="#2aa4d6" stroke="#1f7fae" stroke-width="0.35"/>
<circle cx="153.7" cy="133.8" r="1.0" fill="#2aa4d6" stroke="#1f7fae" stroke-width="0.35"/>
<circle cx="158.8" cy="136.0" r="1.0" fill="#2aa4d6" stroke="#1f7fae" stroke-width="0.35"/>
<circle cx="158.8" cy="122.8" r="1.0" fill="#2aa4d6" stroke="#1f7fae" stroke-width="0.35"/>
<circle cx="152.7" cy="122.2" r="1.0" fill="#2aa4d6" stroke="#1f7fae" stroke-width="0.35"/>
<circle cx="151.6" cy="137.5" r="1.0" fill="#2aa4d6" stroke="#1f7fae" stroke-width="0.35"/>
<circle cx="150.3" cy="136.6" r="1.0" fill="#2aa4d6" stroke="#1f7fae" stroke-width="0.35"/>
<circle cx="151.9" cy="101.2" r="1.0" fill="#2aa4d6" stroke="#1f7fae" stroke-width="0.35"/>
<circle cx="153.4" cy="137.2" r="1.0" fill="#2aa4d6" stroke="#1f7fae" stroke-width="0.35"/>
<circle cx="147.0" cy="125.5" r="1.0" fill="#2aa4d6" stroke="#1f7fae" stroke-width="0.35"/>
<circle cx="148.6" cy="135.2" r="1.0" fill="#2aa4d6" stroke="#1f7fae" stroke-width="0.35"/>
<circle cx="148.2" cy="84.7" r="1.0" fill="#2aa4d6" stroke="#1f7fae" stroke-width="0.35"/>
<circle cx="156.3" cy="98.5" r="1.0" fill="#2aa4d6" stroke="#1f7fae" stroke-width="0.35"/>
<circle cx="151.5" cy="85.8" r="1.0" fill="#2aa4d6" stroke="#1f7fae" stroke-width="0.35"/>
<circle cx="146.0" cy="87.8" r="1.0" fill="#2aa4d6" stroke="#1f7fae" stroke-width="0.35"/>
<circle cx="149.5" cy="134.3" r="1.0" fill="#2aa4d6" stroke="#1f7fae" stroke-width="0.35"/>
<circle cx="157.9" cy="89.8" r="1.0" fill="#2aa4d6" stroke="#1f7fae" stroke-width="0.35"/>
<circle cx="149.6" cy="126.8" r="1.0" fill="#2aa4d6" stroke="#1f7fae" stroke-width="0.35"/>
<circle cx="148.1" cy="134.5" r="1.0" fill="#2aa4d6" stroke="#1f7fae" stroke-width="0.35"/>
<circle cx="149.0" cy="130.2" r="1.0" fill="#2aa4d6" stroke="#1f7fae" stroke-width="0.35"/>
<circle cx="153.3" cy="135.0" r="1.0" fill="#2aa4d6" stroke="#1f7fae" stroke-width="0.35"/>
<circle cx="155.7" cy="90.7" r="1.0" fill="#2aa4d6" stroke="#1f7fae" stroke-width="0.35"/>
<circle cx="153.1" cy="130.7" r="1.0" fill="#2aa4d6" stroke="#1f7fae" stroke-width="0.35"/>
<circle cx="160.0" cy="128.3" r="1.0" fill="#2aa4d6" stroke="#1f7fae" stroke-width="0.35"/>
<circle cx="158.2" cy="133.7" r="1.0" fill="#2aa4d6" stroke="#1f7fae" stroke-width="0.35"/>
<circle cx="149.1" cy="89.4" r="1.0" fill="#2aa4d6" stroke="#1f7fae" stroke-width="0.35"/>
<circle cx="156.4" cy="92.5" r="1.0" fill="#2aa4d6" stroke="#1f7fae" stroke-width="0.35"/>
<circle cx="157.6" cy="100.7" r="1.0" fill="#2aa4d6" stroke="#1f7fae" stroke-width="0.35"/>
<circle cx="150.8" cy="117.2" r="1.0" fill="#2aa4d6" stroke="#1f7fae" stroke-width="0.35"/>
<circle cx="148.1" cy="126.4" r="1.0" fill="#2aa4d6" stroke="#1f7fae" stroke-width="0.35"/>
<circle cx="151.5" cy="115.8" r="1.0" fill="#2aa4d6" stroke="#1f7fae" stroke-width="0.35"/>
<circle cx="157.4" cy="93.5" r="1.0" fill="#2aa4d6" stroke="#1f7fae" stroke-width="0.35"/>
<circle cx="149.6" cy="84.9" r="1.0" fill="#2aa4d6" stroke="#1f7fae" stroke-width="0.35"/>
<circle cx="149.0" cy="124.7" r="1.0" fill="#2aa4d6" stroke="#1f7fae" stroke-width="0.35"/>
<circle cx="146.7" cy="130.6" r="1.0" fill="#2aa4d6" stroke="#1f7fae" stroke-width="0.35"/>
<circle cx="154.5" cy="114.4" r="1.0" fill="#2aa4d6" stroke="#1f7fae" stroke-width="0.35"/>
<circle cx="152.8" cy="102.1" r="1.0" fill="#2aa4d6" stroke="#1f7fae" stroke-width="0.35"/>
<circle cx="150.1" cy="133.9" r="1.0" fill="#2aa4d6" stroke="#1f7fae" stroke-width="0.35"/>
<circle cx="142.7" cy="42.5" r="1.0" fill="#2aa4d6" stroke="#1f7fae" stroke-width="0.35"/>
<circle cx="132.7" cy="65.3" r="1.0" fill="#2aa4d6" stroke="#1f7fae" stroke-width="0.35"/>
<circle cx="136.4" cy="74.5" r="1.0" fill="#2aa4d6" stroke="#1f7fae" stroke-width="0.35"/>
<circle cx="119.0" cy="96.0" r="1.0" fill="#2aa4d6" stroke="#1f7fae" stroke-width="0.35"/>
<circle cx="128.0" cy="80.0" r="1.0" fill="#2aa4d6" stroke="#1f7fae" stroke-width="0.35"/>
<circle cx="141.0" cy="71.0" r="1.0" fill="#2aa4d6" stroke="#1f7fae" stroke-width="0.35"/>
<circle cx="137.0" cy="84.0" r="1.0" fill="#2aa4d6" stroke="#1f7fae" stroke-width="0.35"/>
<circle cx="153.0" cy="79.0" r="1.0" fill="#2aa4d6" stroke="#1f7fae" stroke-width="0.35"/>
<circle cx="131.0" cy="104.0" r="1.0" fill="#2aa4d6" stroke="#1f7fae" stroke-width="0.35"/>
<circle cx="127.0" cy="126.0" r="1.0" fill="#2aa4d6" stroke="#1f7fae" stroke-width="0.35"/>
<circle cx="124.0" cy="133.0" r="1.0" fill="#2aa4d6" stroke="#1f7fae" stroke-width="0.35"/>
<circle cx="138.0" cy="108.0" r="1.0" fill="#2aa4d6" stroke="#1f7fae" stroke-width="0.35"/>
<circle cx="135.0" cy="115.0" r="1.0" fill="#2aa4d6" stroke="#1f7fae" stroke-width="0.35"/>
<circle cx="140.0" cy="122.0" r="1.0" fill="#2aa4d6" stroke="#1f7fae" stroke-width="0.35"/>
<circle cx="180.4" cy="137.4" r="1.0" fill="#b8102c" stroke="#8a0a20" stroke-width="0.35"/>
<circle cx="177.8" cy="132.0" r="1.0" fill="#b8102c" stroke="#8a0a20" stroke-width="0.35"/>
<circle cx="178.9" cy="93.1" r="1.0" fill="#b8102c" stroke="#8a0a20" stroke-width="0.35"/>
<circle cx="173.6" cy="113.1" r="1.0" fill="#b8102c" stroke="#8a0a20" stroke-width="0.35"/>
<circle cx="167.8" cy="137.9" r="1.0" fill="#b8102c" stroke="#8a0a20" stroke-width="0.35"/>
<circle cx="177.3" cy="135.3" r="1.0" fill="#b8102c" stroke="#8a0a20" stroke-width="0.35"/>
<circle cx="176.2" cy="124.9" r="1.0" fill="#b8102c" stroke="#8a0a20" stroke-width="0.35"/>
<circle cx="171.4" cy="99.0" r="1.0" fill="#b8102c" stroke="#8a0a20" stroke-width="0.35"/>
<circle cx="178.0" cy="132.9" r="1.0" fill="#b8102c" stroke="#8a0a20" stroke-width="0.35"/>
<circle cx="167.3" cy="137.8" r="1.0" fill="#b8102c" stroke="#8a0a20" stroke-width="0.35"/>
<circle cx="169.5" cy="128.2" r="1.0" fill="#b8102c" stroke="#8a0a20" stroke-width="0.35"/>
<circle cx="171.4" cy="128.1" r="1.0" fill="#b8102c" stroke="#8a0a20" stroke-width="0.35"/>
<circle cx="177.8" cy="117.4" r="1.0" fill="#b8102c" stroke="#8a0a20" stroke-width="0.35"/>
<circle cx="177.5" cy="133.7" r="1.0" fill="#b8102c" stroke="#8a0a20" stroke-width="0.35"/>
<circle cx="170.2" cy="122.9" r="1.0" fill="#b8102c" stroke="#8a0a20" stroke-width="0.35"/>
<circle cx="173.3" cy="96.3" r="1.0" fill="#b8102c" stroke="#8a0a20" stroke-width="0.35"/>
<circle cx="169.0" cy="135.3" r="1.0" fill="#b8102c" stroke="#8a0a20" stroke-width="0.35"/>
<circle cx="182.4" cy="114.5" r="1.0" fill="#b8102c" stroke="#8a0a20" stroke-width="0.35"/>
<circle cx="175.3" cy="106.2" r="1.0" fill="#b8102c" stroke="#8a0a20" stroke-width="0.35"/>
<circle cx="167.8" cy="131.7" r="1.0" fill="#b8102c" stroke="#8a0a20" stroke-width="0.35"/>
<circle cx="177.5" cy="114.1" r="1.0" fill="#b8102c" stroke="#8a0a20" stroke-width="0.35"/>
<circle cx="178.1" cy="128.4" r="1.0" fill="#b8102c" stroke="#8a0a20" stroke-width="0.35"/>
<circle cx="183.0" cy="124.3" r="1.0" fill="#b8102c" stroke="#8a0a20" stroke-width="0.35"/>
<circle cx="172.7" cy="109.1" r="1.0" fill="#b8102c" stroke="#8a0a20" stroke-width="0.35"/>
<circle cx="170.0" cy="98.5" r="1.0" fill="#b8102c" stroke="#8a0a20" stroke-width="0.35"/>
<circle cx="174.7" cy="120.1" r="1.0" fill="#b8102c" stroke="#8a0a20" stroke-width="0.35"/>
<circle cx="168.5" cy="132.6" r="1.0" fill="#b8102c" stroke="#8a0a20" stroke-width="0.35"/>
<circle cx="169.1" cy="106.4" r="1.0" fill="#b8102c" stroke="#8a0a20" stroke-width="0.35"/>
<circle cx="183.3" cy="119.1" r="1.0" fill="#b8102c" stroke="#8a0a20" stroke-width="0.35"/>
<circle cx="170.6" cy="135.4" r="1.0" fill="#b8102c" stroke="#8a0a20" stroke-width="0.35"/>
<circle cx="176.5" cy="116.1" r="1.0" fill="#b8102c" stroke="#8a0a20" stroke-width="0.35"/>
<circle cx="181.5" cy="114.3" r="1.0" fill="#b8102c" stroke="#8a0a20" stroke-width="0.35"/>
<circle cx="172.4" cy="134.6" r="1.0" fill="#b8102c" stroke="#8a0a20" stroke-width="0.35"/>
<circle cx="168.5" cy="130.4" r="1.0" fill="#b8102c" stroke="#8a0a20" stroke-width="0.35"/>
<circle cx="181.8" cy="99.4" r="1.0" fill="#b8102c" stroke="#8a0a20" stroke-width="0.35"/>
<circle cx="168.8" cy="110.1" r="1.0" fill="#b8102c" stroke="#8a0a20" stroke-width="0.35"/>
<circle cx="181.0" cy="102.3" r="1.0" fill="#b8102c" stroke="#8a0a20" stroke-width="0.35"/>
<circle cx="179.9" cy="123.3" r="1.0" fill="#b8102c" stroke="#8a0a20" stroke-width="0.35"/>
<circle cx="171.6" cy="123.9" r="1.0" fill="#b8102c" stroke="#8a0a20" stroke-width="0.35"/>
<circle cx="171.1" cy="136.3" r="1.0" fill="#b8102c" stroke="#8a0a20" stroke-width="0.35"/>
<circle cx="172.7" cy="137.6" r="1.0" fill="#b8102c" stroke="#8a0a20" stroke-width="0.35"/>
<circle cx="179.9" cy="108.1" r="1.0" fill="#b8102c" stroke="#8a0a20" stroke-width="0.35"/>
<circle cx="180.5" cy="102.2" r="1.0" fill="#b8102c" stroke="#8a0a20" stroke-width="0.35"/>
<circle cx="176.5" cy="131.6" r="1.0" fill="#b8102c" stroke="#8a0a20" stroke-width="0.35"/>
<circle cx="180.6" cy="124.7" r="1.0" fill="#b8102c" stroke="#8a0a20" stroke-width="0.35"/>
<circle cx="172.4" cy="120.5" r="1.0" fill="#b8102c" stroke="#8a0a20" stroke-width="0.35"/>
<circle cx="183.9" cy="114.3" r="1.0" fill="#b8102c" stroke="#8a0a20" stroke-width="0.35"/>
<circle cx="181.6" cy="133.3" r="1.0" fill="#b8102c" stroke="#8a0a20" stroke-width="0.35"/>
<circle cx="171.5" cy="137.8" r="1.0" fill="#b8102c" stroke="#8a0a20" stroke-width="0.35"/>
<circle cx="179.5" cy="132.6" r="1.0" fill="#b8102c" stroke="#8a0a20" stroke-width="0.35"/>
<circle cx="181.4" cy="95.8" r="1.0" fill="#b8102c" stroke="#8a0a20" stroke-width="0.35"/>
<circle cx="181.8" cy="129.3" r="1.0" fill="#b8102c" stroke="#8a0a20" stroke-width="0.35"/>
<circle cx="171.6" cy="129.3" r="1.0" fill="#b8102c" stroke="#8a0a20" stroke-width="0.35"/>
<circle cx="179.4" cy="98.2" r="1.0" fill="#b8102c" stroke="#8a0a20" stroke-width="0.35"/>
<circle cx="179.3" cy="111.4" r="1.0" fill="#b8102c" stroke="#8a0a20" stroke-width="0.35"/>
<circle cx="177.1" cy="93.4" r="1.0" fill="#b8102c" stroke="#8a0a20" stroke-width="0.35"/>
<circle cx="180.2" cy="102.6" r="1.0" fill="#b8102c" stroke="#8a0a20" stroke-width="0.35"/>
<circle cx="176.1" cy="101.5" r="1.0" fill="#b8102c" stroke="#8a0a20" stroke-width="0.35"/>
<circle cx="177.9" cy="109.6" r="1.0" fill="#b8102c" stroke="#8a0a20" stroke-width="0.35"/>
<circle cx="171.1" cy="130.1" r="1.0" fill="#b8102c" stroke="#8a0a20" stroke-width="0.35"/>
<circle cx="169.7" cy="115.4" r="1.0" fill="#b8102c" stroke="#8a0a20" stroke-width="0.35"/>
<circle cx="171.6" cy="98.0" r="1.0" fill="#b8102c" stroke="#8a0a20" stroke-width="0.35"/>
<circle cx="169.0" cy="137.7" r="1.0" fill="#b8102c" stroke="#8a0a20" stroke-width="0.35"/>
<circle cx="174.9" cy="96.8" r="1.0" fill="#b8102c" stroke="#8a0a20" stroke-width="0.35"/>
<circle cx="167.9" cy="135.5" r="1.0" fill="#b8102c" stroke="#8a0a20" stroke-width="0.35"/>
<circle cx="178.4" cy="137.5" r="1.0" fill="#b8102c" stroke="#8a0a20" stroke-width="0.35"/>
<circle cx="179.6" cy="114.7" r="1.0" fill="#b8102c" stroke="#8a0a20" stroke-width="0.35"/>
<circle cx="169.8" cy="108.9" r="1.0" fill="#b8102c" stroke="#8a0a20" stroke-width="0.35"/>
<circle cx="174.2" cy="117.1" r="1.0" fill="#b8102c" stroke="#8a0a20" stroke-width="0.35"/>
<circle cx="182.1" cy="104.0" r="1.0" fill="#b8102c" stroke="#8a0a20" stroke-width="0.35"/>
<circle cx="170.3" cy="99.3" r="1.0" fill="#b8102c" stroke="#8a0a20" stroke-width="0.35"/>
<circle cx="183.8" cy="100.8" r="1.0" fill="#b8102c" stroke="#8a0a20" stroke-width="0.35"/>
<circle cx="171.1" cy="95.8" r="1.0" fill="#b8102c" stroke="#8a0a20" stroke-width="0.35"/>
<circle cx="169.3" cy="133.6" r="1.0" fill="#b8102c" stroke="#8a0a20" stroke-width="0.35"/>
<circle cx="180.9" cy="137.6" r="1.0" fill="#b8102c" stroke="#8a0a20" stroke-width="0.35"/>
<circle cx="179.1" cy="104.3" r="1.0" fill="#b8102c" stroke="#8a0a20" stroke-width="0.35"/>
<circle cx="179.1" cy="103.5" r="1.0" fill="#b8102c" stroke="#8a0a20" stroke-width="0.35"/>
<circle cx="169.3" cy="130.8" r="1.0" fill="#b8102c" stroke="#8a0a20" stroke-width="0.35"/>
<circle cx="179.5" cy="136.5" r="1.0" fill="#b8102c" stroke="#8a0a20" stroke-width="0.35"/>
<circle cx="172.6" cy="133.6" r="1.0" fill="#b8102c" stroke="#8a0a20" stroke-width="0.35"/>
<circle cx="168.3" cy="125.2" r="1.0" fill="#b8102c" stroke="#8a0a20" stroke-width="0.35"/>
<circle cx="172.1" cy="131.9" r="1.0" fill="#b8102c" stroke="#8a0a20" stroke-width="0.35"/>
<circle cx="174.6" cy="110.1" r="1.0" fill="#b8102c" stroke="#8a0a20" stroke-width="0.35"/>
<circle cx="183.2" cy="129.6" r="1.0" fill="#b8102c" stroke="#8a0a20" stroke-width="0.35"/>
<circle cx="181.8" cy="121.5" r="1.0" fill="#b8102c" stroke="#8a0a20" stroke-width="0.35"/>
<circle cx="168.9" cy="115.6" r="1.0" fill="#b8102c" stroke="#8a0a20" stroke-width="0.35"/>
<circle cx="174.9" cy="125.7" r="1.0" fill="#b8102c" stroke="#8a0a20" stroke-width="0.35"/>
<circle cx="174.4" cy="106.7" r="1.0" fill="#b8102c" stroke="#8a0a20" stroke-width="0.35"/>
<circle cx="177.3" cy="110.8" r="1.0" fill="#b8102c" stroke="#8a0a20" stroke-width="0.35"/>
<circle cx="181.3" cy="133.3" r="1.0" fill="#b8102c" stroke="#8a0a20" stroke-width="0.35"/>
<circle cx="180.5" cy="136.7" r="1.0" fill="#b8102c" stroke="#8a0a20" stroke-width="0.35"/>
<circle cx="167.5" cy="134.7" r="1.0" fill="#b8102c" stroke="#8a0a20" stroke-width="0.35"/>
<circle cx="179.7" cy="133.7" r="1.0" fill="#b8102c" stroke="#8a0a20" stroke-width="0.35"/>
<circle cx="169.6" cy="93.5" r="1.0" fill="#b8102c" stroke="#8a0a20" stroke-width="0.35"/>
<circle cx="176.0" cy="122.1" r="1.0" fill="#b8102c" stroke="#8a0a20" stroke-width="0.35"/>
<circle cx="171.9" cy="105.3" r="1.0" fill="#b8102c" stroke="#8a0a20" stroke-width="0.35"/>
<circle cx="173.7" cy="121.9" r="1.0" fill="#b8102c" stroke="#8a0a20" stroke-width="0.35"/>
<circle cx="173.2" cy="103.1" r="1.0" fill="#b8102c" stroke="#8a0a20" stroke-width="0.35"/>
<circle cx="174.0" cy="95.8" r="1.0" fill="#b8102c" stroke="#8a0a20" stroke-width="0.35"/>
<circle cx="178.7" cy="133.3" r="1.0" fill="#b8102c" stroke="#8a0a20" stroke-width="0.35"/>
<circle cx="169.9" cy="121.8" r="1.0" fill="#b8102c" stroke="#8a0a20" stroke-width="0.35"/>
<circle cx="169.8" cy="114.6" r="1.0" fill="#b8102c" stroke="#8a0a20" stroke-width="0.35"/>
<circle cx="180.1" cy="105.8" r="1.0" fill="#b8102c" stroke="#8a0a20" stroke-width="0.35"/>
<circle cx="179.0" cy="105.9" r="1.0" fill="#b8102c" stroke="#8a0a20" stroke-width="0.35"/>
<circle cx="174.2" cy="128.2" r="1.0" fill="#b8102c" stroke="#8a0a20" stroke-width="0.35"/>
<circle cx="182.1" cy="126.5" r="1.0" fill="#b8102c" stroke="#8a0a20" stroke-width="0.35"/>
<circle cx="181.6" cy="136.7" r="1.0" fill="#b8102c" stroke="#8a0a20" stroke-width="0.35"/>
<circle cx="170.6" cy="137.7" r="1.0" fill="#b8102c" stroke="#8a0a20" stroke-width="0.35"/>
<circle cx="182.0" cy="131.7" r="1.0" fill="#b8102c" stroke="#8a0a20" stroke-width="0.35"/>
<circle cx="174.2" cy="121.6" r="1.0" fill="#b8102c" stroke="#8a0a20" stroke-width="0.35"/>
<circle cx="173.0" cy="99.8" r="1.0" fill="#b8102c" stroke="#8a0a20" stroke-width="0.35"/>
<circle cx="176.5" cy="123.5" r="1.0" fill="#b8102c" stroke="#8a0a20" stroke-width="0.35"/>
<circle cx="214.6" cy="95.7" r="1.0" fill="#b8102c" stroke="#8a0a20" stroke-width="0.35"/>
<circle cx="192.4" cy="103.8" r="1.0" fill="#b8102c" stroke="#8a0a20" stroke-width="0.35"/>
<circle cx="185.8" cy="124.2" r="1.0" fill="#b8102c" stroke="#8a0a20" stroke-width="0.35"/>
<circle cx="208.8" cy="88.8" r="1.0" fill="#b8102c" stroke="#8a0a20" stroke-width="0.35"/>
<circle cx="186.2" cy="96.7" r="1.0" fill="#b8102c" stroke="#8a0a20" stroke-width="0.35"/>
<circle cx="215.9" cy="117.7" r="1.0" fill="#b8102c" stroke="#8a0a20" stroke-width="0.35"/>
<circle cx="185.1" cy="108.5" r="1.0" fill="#b8102c" stroke="#8a0a20" stroke-width="0.35"/>
<circle cx="223.8" cy="116.2" r="1.0" fill="#b8102c" stroke="#8a0a20" stroke-width="0.35"/>
<circle cx="186.8" cy="128.8" r="1.0" fill="#b8102c" stroke="#8a0a20" stroke-width="0.35"/>
<circle cx="211.3" cy="125.6" r="1.0" fill="#b8102c" stroke="#8a0a20" stroke-width="0.35"/>
<circle cx="185.8" cy="88.8" r="1.0" fill="#b8102c" stroke="#8a0a20" stroke-width="0.35"/>
<circle cx="188.6" cy="132.4" r="1.0" fill="#b8102c" stroke="#8a0a20" stroke-width="0.35"/>
<circle cx="200.7" cy="124.2" r="1.0" fill="#b8102c" stroke="#8a0a20" stroke-width="0.35"/>
<circle cx="191.6" cy="132.2" r="1.0" fill="#b8102c" stroke="#8a0a20" stroke-width="0.35"/>
<circle cx="230.6" cy="131.0" r="1.0" fill="#b8102c" stroke="#8a0a20" stroke-width="0.35"/>
<circle cx="184.6" cy="97.7" r="1.0" fill="#b8102c" stroke="#8a0a20" stroke-width="0.35"/>
<circle cx="184.6" cy="79.0" r="1.0" fill="#b8102c" stroke="#8a0a20" stroke-width="0.35"/>
<circle cx="231.3" cy="121.0" r="1.0" fill="#b8102c" stroke="#8a0a20" stroke-width="0.35"/>
<circle cx="213.3" cy="92.6" r="1.0" fill="#b8102c" stroke="#8a0a20" stroke-width="0.35"/>
<circle cx="186.9" cy="117.9" r="1.0" fill="#b8102c" stroke="#8a0a20" stroke-width="0.35"/>
<circle cx="184.7" cy="104.4" r="1.0" fill="#b8102c" stroke="#8a0a20" stroke-width="0.35"/>
<circle cx="194.1" cy="130.3" r="1.0" fill="#b8102c" stroke="#8a0a20" stroke-width="0.35"/>
<circle cx="194.6" cy="136.5" r="1.0" fill="#b8102c" stroke="#8a0a20" stroke-width="0.35"/>
<circle cx="210.7" cy="92.9" r="1.0" fill="#b8102c" stroke="#8a0a20" stroke-width="0.35"/>
<circle cx="207.0" cy="113.8" r="1.0" fill="#b8102c" stroke="#8a0a20" stroke-width="0.35"/>
<circle cx="185.4" cy="116.1" r="1.0" fill="#b8102c" stroke="#8a0a20" stroke-width="0.35"/>
<circle cx="194.9" cy="106.8" r="1.0" fill="#b8102c" stroke="#8a0a20" stroke-width="0.35"/>
<circle cx="225.5" cy="96.8" r="1.0" fill="#b8102c" stroke="#8a0a20" stroke-width="0.35"/>
<circle cx="203.6" cy="118.2" r="1.0" fill="#b8102c" stroke="#8a0a20" stroke-width="0.35"/>
<circle cx="195.6" cy="96.1" r="1.0" fill="#b8102c" stroke="#8a0a20" stroke-width="0.35"/>
<circle cx="212.6" cy="129.2" r="1.0" fill="#b8102c" stroke="#8a0a20" stroke-width="0.35"/>
<circle cx="216.0" cy="85.8" r="1.0" fill="#b8102c" stroke="#8a0a20" stroke-width="0.35"/>
<circle cx="221.5" cy="99.8" r="1.0" fill="#b8102c" stroke="#8a0a20" stroke-width="0.35"/>
<circle cx="207.5" cy="101.4" r="1.0" fill="#b8102c" stroke="#8a0a20" stroke-width="0.35"/>
<circle cx="191.0" cy="116.7" r="1.0" fill="#b8102c" stroke="#8a0a20" stroke-width="0.35"/>
<circle cx="184.5" cy="105.1" r="1.0" fill="#b8102c" stroke="#8a0a20" stroke-width="0.35"/>
<circle cx="216.6" cy="118.8" r="1.0" fill="#b8102c" stroke="#8a0a20" stroke-width="0.35"/>
<circle cx="206.8" cy="98.9" r="1.0" fill="#b8102c" stroke="#8a0a20" stroke-width="0.35"/>
<circle cx="195.7" cy="128.2" r="1.0" fill="#b8102c" stroke="#8a0a20" stroke-width="0.35"/>
<circle cx="206.3" cy="116.7" r="1.0" fill="#b8102c" stroke="#8a0a20" stroke-width="0.35"/>
<circle cx="209.6" cy="119.5" r="1.0" fill="#b8102c" stroke="#8a0a20" stroke-width="0.35"/>
<circle cx="186.5" cy="81.7" r="1.0" fill="#b8102c" stroke="#8a0a20" stroke-width="0.35"/>
<circle cx="216.3" cy="103.2" r="1.0" fill="#b8102c" stroke="#8a0a20" stroke-width="0.35"/>
<circle cx="199.0" cy="120.7" r="1.0" fill="#b8102c" stroke="#8a0a20" stroke-width="0.35"/>
<circle cx="183.5" cy="78.0" r="1.0" fill="#b8102c" stroke="#8a0a20" stroke-width="0.35"/>
<circle cx="185.9" cy="110.9" r="1.0" fill="#b8102c" stroke="#8a0a20" stroke-width="0.35"/>
<circle cx="228.0" cy="93.6" r="1.0" fill="#b8102c" stroke="#8a0a20" stroke-width="0.35"/>
<circle cx="184.5" cy="112.5" r="1.0" fill="#b8102c" stroke="#8a0a20" stroke-width="0.35"/>
<circle cx="201.7" cy="108.8" r="1.0" fill="#b8102c" stroke="#8a0a20" stroke-width="0.35"/>
<circle cx="200.2" cy="98.6" r="1.0" fill="#b8102c" stroke="#8a0a20" stroke-width="0.35"/>
<circle cx="219.8" cy="104.3" r="1.0" fill="#b8102c" stroke="#8a0a20" stroke-width="0.35"/>
<circle cx="195.1" cy="112.4" r="1.0" fill="#b8102c" stroke="#8a0a20" stroke-width="0.35"/>
<circle cx="187.3" cy="80.2" r="1.0" fill="#b8102c" stroke="#8a0a20" stroke-width="0.35"/>
<circle cx="194.3" cy="101.0" r="1.0" fill="#b8102c" stroke="#8a0a20" stroke-width="0.35"/>
<circle cx="185.0" cy="95.1" r="1.0" fill="#b8102c" stroke="#8a0a20" stroke-width="0.35"/>
<circle cx="229.0" cy="47.3" r="1.0" fill="#b8102c" stroke="#8a0a20" stroke-width="0.35"/>
<circle cx="207.3" cy="51.9" r="1.0" fill="#b8102c" stroke="#8a0a20" stroke-width="0.35"/>
<circle cx="215.3" cy="60.5" r="1.0" fill="#b8102c" stroke="#8a0a20" stroke-width="0.35"/>
<circle cx="226.9" cy="66.3" r="1.0" fill="#b8102c" stroke="#8a0a20" stroke-width="0.35"/>
<circle cx="198.5" cy="66.5" r="1.0" fill="#b8102c" stroke="#8a0a20" stroke-width="0.35"/>
<circle cx="203.1" cy="69.7" r="1.0" fill="#b8102c" stroke="#8a0a20" stroke-width="0.35"/>
<circle cx="220.4" cy="65.8" r="1.0" fill="#b8102c" stroke="#8a0a20" stroke-width="0.35"/>
<circle cx="271.9" cy="69.7" r="1.0" fill="#b8102c" stroke="#8a0a20" stroke-width="0.35"/>
<circle cx="253.4" cy="79.7" r="1.0" fill="#b8102c" stroke="#8a0a20" stroke-width="0.35"/>
<circle cx="263.6" cy="79.0" r="1.0" fill="#b8102c" stroke="#8a0a20" stroke-width="0.35"/>
<circle cx="281.2" cy="82.0" r="1.0" fill="#b8102c" stroke="#8a0a20" stroke-width="0.35"/>
<circle cx="197.3" cy="79.7" r="1.0" fill="#b8102c" stroke="#8a0a20" stroke-width="0.35"/>
<circle cx="228.5" cy="87.7" r="1.0" fill="#b8102c" stroke="#8a0a20" stroke-width="0.35"/>
<circle cx="234.3" cy="91.2" r="1.0" fill="#b8102c" stroke="#8a0a20" stroke-width="0.35"/>
<circle cx="253.4" cy="95.1" r="1.0" fill="#b8102c" stroke="#8a0a20" stroke-width="0.35"/>
<circle cx="274.0" cy="98.6" r="1.0" fill="#b8102c" stroke="#8a0a20" stroke-width="0.35"/>
<circle cx="235.0" cy="85.4" r="1.0" fill="#b8102c" stroke="#8a0a20" stroke-width="0.35"/>
<circle cx="260.8" cy="110.8" r="1.0" fill="#b8102c" stroke="#8a0a20" stroke-width="0.35"/>
<circle cx="233.6" cy="117.0" r="1.0" fill="#b8102c" stroke="#8a0a20" stroke-width="0.35"/>
<circle cx="261.0" cy="125.0" r="1.0" fill="#b8102c" stroke="#8a0a20" stroke-width="0.35"/>
<circle cx="248.0" cy="133.0" r="1.0" fill="#b8102c" stroke="#8a0a20" stroke-width="0.35"/>
<circle cx="247.0" cy="111.0" r="1.0" fill="#b8102c" stroke="#8a0a20" stroke-width="0.35"/>
<circle cx="222.0" cy="83.0" r="1.0" fill="#b8102c" stroke="#8a0a20" stroke-width="0.35"/>
<circle cx="215.0" cy="88.0" r="1.0" fill="#b8102c" stroke="#8a0a20" stroke-width="0.35"/>
<circle cx="205.0" cy="90.0" r="1.0" fill="#b8102c" stroke="#8a0a20" stroke-width="0.35"/>
<circle cx="238.0" cy="100.0" r="1.0" fill="#b8102c" stroke="#8a0a20" stroke-width="0.35"/>
<circle cx="243.0" cy="105.0" r="1.0" fill="#b8102c" stroke="#8a0a20" stroke-width="0.35"/>
<circle cx="225.0" cy="106.0" r="1.0" fill="#b8102c" stroke="#8a0a20" stroke-width="0.35"/>
<circle cx="230.0" cy="122.0" r="1.0" fill="#b8102c" stroke="#8a0a20" stroke-width="0.35"/>
<circle cx="222.0" cy="128.0" r="1.0" fill="#b8102c" stroke="#8a0a20" stroke-width="0.35"/>
<circle cx="211.0" cy="135.0" r="1.0" fill="#b8102c" stroke="#8a0a20" stroke-width="0.35"/>
<text x="128.90" y="40.40" font-size="6.3" fill="#333" stroke="#333" stroke-width="0.22">Ldhb</text>
<text x="119.70" y="63.20" font-size="6.3" fill="#333" stroke="#333" stroke-width="0.22">Slc6a19</text>
<text x="115.70" y="76.70" font-size="6.3" fill="#333" stroke="#333" stroke-width="0.22">H2-Ob</text>
<text x="138.20" y="76.70" font-size="6.3" fill="#333" stroke="#333" stroke-width="0.22">Ltb</text>
<text x="134.50" y="84.70" font-size="6.3" fill="#333" stroke="#333" stroke-width="0.22">Icos</text>
<text x="104.00" y="91.90" font-size="6.3" fill="#333" stroke="#333" stroke-width="0.22">Gabarap</text>
<text x="133.00" y="91.70" font-size="6.3" fill="#333" stroke="#333" stroke-width="0.22">Myb</text>
<text x="96.00" y="99.50" font-size="6.3" fill="#333" stroke="#333" stroke-width="0.22">Slc3a1</text>
<text x="141.00" y="98.70" font-size="6.3" fill="#333" stroke="#333" stroke-width="0.22">Sos1</text>
<text x="122.00" y="103.90" font-size="6.3" fill="#333" stroke="#333" stroke-width="0.22">Pdk1</text>
<text x="125.00" y="113.20" font-size="6.3" fill="#333" stroke="#333" stroke-width="0.22">Ash1l</text>
<text x="124.50" y="120.70" font-size="6.3" fill="#333" stroke="#333" stroke-width="0.22">Prkab2</text>
<text x="113.00" y="124.50" font-size="6.3" fill="#333" stroke="#333" stroke-width="0.22">Insr</text>
<text x="108.00" y="130.20" font-size="6.3" fill="#333" stroke="#333" stroke-width="0.22">Pik3r2</text>
<text x="125.00" y="136.70" font-size="6.3" fill="#333" stroke="#333" stroke-width="0.22">Ctsl</text>
<text x="160.50" y="118.50" font-size="6.3" fill="#333" stroke="#333" stroke-width="0.22">Phgdh</text>
<text x="152.00" y="133.50" font-size="6.3" fill="#333" stroke="#333" stroke-width="0.22">Prkaa1</text>
<text x="161.80" y="91.10" font-size="6.3" fill="#333" stroke="#333" stroke-width="0.22">Bcl2l1</text>
<text x="185.20" y="89.30" font-size="6.3" fill="#333" stroke="#333" stroke-width="0.22">Cxcr6</text>
<text x="184.00" y="96.50" font-size="6.3" fill="#333" stroke="#333" stroke-width="0.22">Gapdh</text>
<text x="199.50" y="81.90" font-size="6.3" fill="#333" stroke="#333" stroke-width="0.22">Eomes</text>
<text x="205.90" y="71.90" font-size="6.3" fill="#333" stroke="#333" stroke-width="0.22">Mki67</text>
<text x="231.50" y="49.50" font-size="6.3" fill="#333" stroke="#333" stroke-width="0.22">Ccl5</text>
<text x="229.00" y="68.50" font-size="6.3" fill="#333" stroke="#333" stroke-width="0.22">Fasl</text>
<text x="224.30" y="80.70" font-size="6.3" fill="#333" stroke="#333" stroke-width="0.22">Ccna2</text>
<text x="248.10" y="76.10" font-size="6.3" fill="#333" stroke="#333" stroke-width="0.22">Tigit</text>
<text x="274.50" y="71.90" font-size="6.3" fill="#333" stroke="#333" stroke-width="0.22">Lag3</text>
<text x="257.40" y="86.00" font-size="6.3" fill="#333" stroke="#333" stroke-width="0.22">Gzmb</text>
<text x="283.50" y="84.20" font-size="6.3" fill="#333" stroke="#333" stroke-width="0.22">Cd244a</text>
<text x="236.50" y="93.40" font-size="6.3" fill="#333" stroke="#333" stroke-width="0.22">Ifng</text>
<text x="255.50" y="97.30" font-size="6.3" fill="#333" stroke="#333" stroke-width="0.22">Ccl4</text>
<text x="276.50" y="100.80" font-size="6.3" fill="#333" stroke="#333" stroke-width="0.22">Pdcd1</text>
<text x="181.60" y="105.40" font-size="6.3" fill="#333" stroke="#333" stroke-width="0.22">Poa1</text>
<text x="199.40" y="104.20" font-size="6.3" fill="#333" stroke="#333" stroke-width="0.22">Adora2a</text>
<text x="187.00" y="111.30" font-size="6.3" fill="#333" stroke="#333" stroke-width="0.22">Pold</text>
<text x="204.80" y="113.10" font-size="6.3" fill="#333" stroke="#333" stroke-width="0.22">Ezh2</text>
<text x="263.00" y="113.00" font-size="6.3" fill="#333" stroke="#333" stroke-width="0.22">Gzma</text>
<text x="186.40" y="117.20" font-size="6.3" fill="#333" stroke="#333" stroke-width="0.22">Ctsd</text>
<text x="186.40" y="122.60" font-size="6.3" fill="#333" stroke="#333" stroke-width="0.22">Irf4</text>
<text x="214.60" y="120.40" font-size="6.3" fill="#333" stroke="#333" stroke-width="0.22">Foxm1</text>
<text x="236.00" y="119.20" font-size="6.3" fill="#333" stroke="#333" stroke-width="0.22">Slc16a3</text>
<text x="212.30" y="127.30" font-size="6.3" fill="#333" stroke="#333" stroke-width="0.22">Mybl2</text>
<text x="204.20" y="133.20" font-size="6.3" fill="#333" stroke="#333" stroke-width="0.22">Afmid</text>
<text x="225.00" y="136.10" font-size="6.3" fill="#333" stroke="#333" stroke-width="0.22">Il10</text>
<text x="186.40" y="136.20" font-size="6.3" fill="#333" stroke="#333" stroke-width="0.22">Runx2</text>
<line x1="128.00" y1="91.00" x2="140.00" y2="98.00" stroke="#333" stroke-width="0.5"/>
<line x1="135.00" y1="103.00" x2="147.00" y2="107.00" stroke="#333" stroke-width="0.5"/>
<line x1="127.00" y1="129.00" x2="150.00" y2="134.00" stroke="#333" stroke-width="0.5"/>
<line x1="144.00" y1="84.00" x2="148.00" y2="88.00" stroke="#333" stroke-width="0.5"/>
<line x1="210.00" y1="82.00" x2="197.00" y2="96.00" stroke="#333" stroke-width="0.5"/>
<line x1="179.00" y1="92.00" x2="187.00" y2="104.00" stroke="#333" stroke-width="0.5"/>
<line x1="221.00" y1="72.00" x2="224.00" y2="85.00" stroke="#333" stroke-width="0.5"/>
<line x1="196.00" y1="102.00" x2="184.00" y2="100.00" stroke="#333" stroke-width="0.5"/>
<line x1="200.00" y1="111.00" x2="190.00" y2="110.00" stroke="#333" stroke-width="0.5"/>
<line x1="195.00" y1="130.00" x2="204.00" y2="131.00" stroke="#333" stroke-width="0.5"/>
<line x1="232.00" y1="81.00" x2="229.00" y2="88.00" stroke="#333" stroke-width="0.5"/>
<rect x="412.20" y="28.45" width="90.94" height="4.10" fill="#bd0c28"/>
<text x="408.60" y="32.30" font-size="5.12" text-anchor="end" fill="#333" stroke="#333" stroke-width="0.06">DNA Damage Repair</text>
<rect x="412.20" y="35.59" width="69.89" height="4.10" fill="#bd0c28"/>
<text x="408.60" y="39.44" font-size="5.12" text-anchor="end" fill="#333" stroke="#333" stroke-width="0.06">Cell Cycle</text>
<rect x="412.20" y="42.73" width="51.36" height="4.10" fill="#bd0c28"/>
<text x="408.60" y="46.58" font-size="5.12" text-anchor="end" fill="#333" stroke="#333" stroke-width="0.06">Myc</text>
<rect x="412.20" y="49.87" width="50.52" height="4.10" fill="#bd0c28"/>
<text x="408.60" y="53.72" font-size="5.12" text-anchor="end" fill="#333" stroke="#333" stroke-width="0.06">Cytokine &amp; Chemokine Signaling</text>
<rect x="412.20" y="57.01" width="43.36" height="4.10" fill="#bd0c28"/>
<text x="408.60" y="60.86" font-size="5.12" text-anchor="end" fill="#333" stroke="#333" stroke-width="0.06">Nucleotide Synthesis</text>
<rect x="412.20" y="64.15" width="38.73" height="4.10" fill="#bd0c28"/>
<text x="408.60" y="68.00" font-size="5.12" text-anchor="end" fill="#333" stroke="#333" stroke-width="0.06">Antigen Presentation</text>
<rect x="412.20" y="71.29" width="31.15" height="4.10" fill="#bd0c28"/>
<text x="408.60" y="75.14" font-size="5.12" text-anchor="end" fill="#333" stroke="#333" stroke-width="0.06">Glycolysis</text>
<rect x="412.20" y="78.43" width="30.73" height="4.10" fill="#bd0c28"/>
<text x="408.60" y="82.28" font-size="5.12" text-anchor="end" fill="#333" stroke="#333" stroke-width="0.06">Hypoxia</text>
<rect x="412.20" y="85.57" width="30.31" height="4.10" fill="#bd0c28"/>
<text x="408.60" y="89.42" font-size="5.12" text-anchor="end" fill="#333" stroke="#333" stroke-width="0.06">Glutamine Metabolism</text>
<rect x="412.20" y="92.71" width="16.84" height="4.10" fill="#bd0c28"/>
<text x="408.60" y="96.56" font-size="5.12" text-anchor="end" fill="#333" stroke="#333" stroke-width="0.06">Reactive Oxygen Response</text>
<rect x="412.20" y="99.85" width="15.16" height="4.10" fill="#bd0c28"/>
<text x="408.60" y="103.70" font-size="5.12" text-anchor="end" fill="#333" stroke="#333" stroke-width="0.06">TCR &amp; Costimulatory Signaling</text>
<rect x="402.10" y="106.99" width="10.10" height="4.10" fill="#2ea3da"/>
<text x="415.30" y="110.84" font-size="5.12" fill="#333" stroke="#333" stroke-width="0.06">PI3K</text>
<rect x="396.62" y="114.13" width="15.58" height="4.10" fill="#2ea3da"/>
<text x="415.30" y="117.98" font-size="5.12" fill="#333" stroke="#333" stroke-width="0.06">Mitochondrial Respiration</text>
<rect x="388.62" y="121.27" width="23.58" height="4.10" fill="#2ea3da"/>
<text x="415.30" y="125.12" font-size="5.12" fill="#333" stroke="#333" stroke-width="0.06">Transcriptional Regulation</text>
<rect x="386.10" y="128.41" width="26.10" height="4.10" fill="#2ea3da"/>
<text x="415.30" y="132.26" font-size="5.12" fill="#333" stroke="#333" stroke-width="0.06">Autophagy</text>
<rect x="384.41" y="135.55" width="27.79" height="4.10" fill="#2ea3da"/>
<text x="415.30" y="139.40" font-size="5.12" fill="#333" stroke="#333" stroke-width="0.06">AMPK</text>
<rect x="383.99" y="142.69" width="28.21" height="4.10" fill="#2ea3da"/>
<text x="415.30" y="146.54" font-size="5.12" fill="#333" stroke="#333" stroke-width="0.06">NF-κB</text>
<rect x="383.15" y="149.83" width="29.05" height="4.10" fill="#2ea3da"/>
<text x="415.30" y="153.68" font-size="5.12" fill="#333" stroke="#333" stroke-width="0.06">mTOR</text>
<rect x="370.52" y="156.97" width="41.68" height="4.10" fill="#2ea3da"/>
<text x="415.30" y="160.82" font-size="5.12" fill="#333" stroke="#333" stroke-width="0.06">Epigenetic Regulation</text>
<rect x="369.26" y="164.11" width="42.94" height="4.10" fill="#2ea3da"/>
<text x="415.30" y="167.96" font-size="5.12" fill="#333" stroke="#333" stroke-width="0.06">Amino Acid Synthesis</text>
<rect x="336.84" y="171.25" width="75.36" height="4.10" fill="#2ea3da"/>
<text x="415.30" y="175.10" font-size="5.12" fill="#333" stroke="#333" stroke-width="0.06">Amino Acid Transporters</text>
<line x1="412.20" y1="22.80" x2="412.20" y2="178.30" stroke="#0a0a0a" stroke-width="1.25"/>
<line x1="325.80" y1="178.30" x2="513.00" y2="178.30" stroke="#0a0a0a" stroke-width="1.25"/>
<line x1="328.00" y1="178.30" x2="328.00" y2="180.60" stroke="#0a0a0a" stroke-width="0.9"/>
<text x="328.00" y="191.30" font-size="7.6" text-anchor="middle" textLength="13.5" lengthAdjust="spacingAndGlyphs" fill="#2a2a2a" stroke="#2a2a2a" stroke-width="0.22">−10</text>
<line x1="370.10" y1="178.30" x2="370.10" y2="180.60" stroke="#0a0a0a" stroke-width="0.9"/>
<text x="370.10" y="191.30" font-size="7.6" text-anchor="middle" fill="#2a2a2a" stroke="#2a2a2a" stroke-width="0.22">−5</text>
<line x1="412.20" y1="178.30" x2="412.20" y2="180.60" stroke="#0a0a0a" stroke-width="0.9"/>
<text x="412.20" y="191.30" font-size="7.6" text-anchor="middle" fill="#2a2a2a" stroke="#2a2a2a" stroke-width="0.22">0</text>
<line x1="454.30" y1="178.30" x2="454.30" y2="180.60" stroke="#0a0a0a" stroke-width="0.9"/>
<text x="454.30" y="191.30" font-size="7.6" text-anchor="middle" fill="#2a2a2a" stroke="#2a2a2a" stroke-width="0.22">5</text>
<line x1="496.40" y1="178.30" x2="496.40" y2="180.60" stroke="#0a0a0a" stroke-width="0.9"/>
<text x="496.40" y="191.30" font-size="7.6" text-anchor="middle" textLength="11" lengthAdjust="spacingAndGlyphs" fill="#2a2a2a" stroke="#2a2a2a" stroke-width="0.22">10</text>
<text x="419.20" y="204.40" font-size="8.8" text-anchor="middle" textLength="99.2" lengthAdjust="spacingAndGlyphs" fill="#222" stroke="#222" stroke-width="0.35">Directed global significance score</text>
<line x1="450.40" y1="73.40" x2="461.10" y2="73.40" stroke="#b3102c" stroke-width="1.0"/>
<path d="M446.9,73.4 L452.1,71.1 L450.9,73.4 L452.1,75.7 Z" fill="#b3102c"/>
<line x1="435.30" y1="94.60" x2="445.70" y2="94.60" stroke="#b3102c" stroke-width="1.0"/>
<path d="M431.8,94.6 L437.0,92.3 L435.8,94.6 L437.0,96.9 Z" fill="#b3102c"/>
<line x1="380.20" y1="116.40" x2="390.70" y2="116.40" stroke="#b3102c" stroke-width="1.0"/>
<path d="M394.2,116.4 L389.0,114.1 L390.2,116.4 L389.0,118.7 Z" fill="#b3102c"/>
<line x1="369.40" y1="130.60" x2="379.50" y2="130.60" stroke="#b3102c" stroke-width="1.0"/>
<path d="M383.0,130.6 L377.8,128.3 L379.0,130.6 L377.8,132.9 Z" fill="#b3102c"/>
<line x1="368.00" y1="137.40" x2="378.10" y2="137.40" stroke="#b3102c" stroke-width="1.0"/>
<path d="M381.6,137.4 L376.4,135.1 L377.6,137.4 L376.4,139.7 Z" fill="#b3102c"/>
<text x="66.20" y="244.70" font-size="7.6" text-anchor="middle" textLength="12.1" lengthAdjust="spacingAndGlyphs" fill="#f2b63e" stroke="#f2b63e" stroke-width="0.08">WT</text>
<text x="82.70" y="244.70" font-size="7.6" textLength="24.2" lengthAdjust="spacingAndGlyphs" fill="#b0b0b0" stroke="#b0b0b0" stroke-width="0.08">Interm.</text>
<text x="115.60" y="244.70" font-size="7.6" textLength="14.7" lengthAdjust="spacingAndGlyphs" fill="#6e4a32" stroke="#6e4a32" stroke-width="0.1">Late</text>
<defs><filter id="bl" x="-20%" y="-60%" width="140%" height="220%"><feGaussianBlur stdDeviation="0.8"/></filter><filter id="bl2" x="-20%" y="-60%" width="140%" height="220%"><feGaussianBlur stdDeviation="1.2"/></filter></defs>
<rect x="51.60" y="247.90" width="90.30" height="19.60" fill="#ebebeb" stroke="#3a3a3a" stroke-width="1.1"/>
<text x="47.90" y="260.40" font-size="7.8" text-anchor="end" fill="#2a2a2a" stroke="#2a2a2a" stroke-width="0.1">120 KDa</text>
<text x="145.60" y="260.50" font-size="8.2" fill="#2a2a2a" stroke="#2a2a2a" stroke-width="0.1">Sirt1</text>
<rect x="51.60" y="273.50" width="90.30" height="20.00" fill="#e3e3e3" stroke="#3a3a3a" stroke-width="1.1"/>
<text x="47.90" y="286.20" font-size="7.8" text-anchor="end" fill="#2a2a2a" stroke="#2a2a2a" stroke-width="0.1">45 KDa</text>
<text x="145.60" y="286.30" font-size="8.2" fill="#2a2a2a" stroke="#2a2a2a" stroke-width="0.1">β-Actin</text>
<rect x="51.60" y="299.80" width="90.30" height="19.90" fill="#efefef" stroke="#3a3a3a" stroke-width="1.1"/>
<text x="47.90" y="312.45" font-size="7.8" text-anchor="end" fill="#2a2a2a" stroke="#2a2a2a" stroke-width="0.1">62 KDa</text>
<text x="145.60" y="312.55" font-size="8.2" fill="#2a2a2a" stroke="#2a2a2a" stroke-width="0.1">P-AMPKα</text>
<rect x="51.60" y="326.10" width="90.30" height="22.40" fill="#dcdcdc" stroke="#3a3a3a" stroke-width="1.1"/>
<text x="47.90" y="340.00" font-size="7.8" text-anchor="end" fill="#2a2a2a" stroke="#2a2a2a" stroke-width="0.1">62 KDa</text>
<text x="145.60" y="340.10" font-size="8.2" fill="#2a2a2a" stroke="#2a2a2a" stroke-width="0.1">AMPKα</text>
<rect x="51.60" y="354.60" width="90.30" height="20.90" fill="#e3e3e3" stroke="#3a3a3a" stroke-width="1.1"/>
<text x="47.90" y="367.75" font-size="7.8" text-anchor="end" fill="#2a2a2a" stroke="#2a2a2a" stroke-width="0.1">97 KDa</text>
<text x="145.60" y="367.85" font-size="8.2" fill="#2a2a2a" stroke="#2a2a2a" stroke-width="0.1">NRF2</text>
<rect x="51.60" y="380.70" width="90.30" height="22.30" fill="#e7e7e7" stroke="#3a3a3a" stroke-width="1.1"/>
<text x="47.90" y="394.55" font-size="7.8" text-anchor="end" fill="#2a2a2a" stroke="#2a2a2a" stroke-width="0.1">80 KDa</text>
<text x="145.60" y="394.65" font-size="8.2" fill="#2a2a2a" stroke="#2a2a2a" stroke-width="0.1">OPA1</text>
<rect x="51.60" y="408.80" width="90.30" height="22.70" fill="#e4e4e4" stroke="#3a3a3a" stroke-width="1.1"/>
<text x="47.90" y="422.85" font-size="7.8" text-anchor="end" fill="#2a2a2a" stroke="#2a2a2a" stroke-width="0.1">75 KDa</text>
<text x="145.60" y="422.95" font-size="8.2" fill="#2a2a2a" stroke="#2a2a2a" stroke-width="0.1">Drp1</text>
<rect x="51.60" y="438.10" width="90.30" height="23.90" fill="#d9d9d9" stroke="#3a3a3a" stroke-width="1.1"/>
<text x="47.90" y="452.75" font-size="7.8" text-anchor="end" fill="#2a2a2a" stroke="#2a2a2a" stroke-width="0.1">45 KDa</text>
<text x="145.60" y="452.85" font-size="8.2" fill="#2a2a2a" stroke="#2a2a2a" stroke-width="0.1">β-Actin</text>
<rect x="51.60" y="467.70" width="90.30" height="23.80" fill="#e4e4e4" stroke="#3a3a3a" stroke-width="1.1"/>
<text x="47.90" y="482.30" font-size="7.8" text-anchor="end" fill="#2a2a2a" stroke="#2a2a2a" stroke-width="0.1">19 KDa</text>
<text x="145.60" y="482.40" font-size="8.2" fill="#2a2a2a" stroke="#2a2a2a" stroke-width="0.1">Cofilin</text>
<rect x="55.8" y="252.6" width="19.8" height="7.6" rx="2.6" fill="#111" opacity="1" filter="url(#bl)"/>
<rect x="56.0" y="260.4" width="19.0" height="4.0" rx="2.0" fill="#707070" opacity="1" filter="url(#bl)"/>
<rect x="82.5" y="252.8" width="20.9" height="7.4" rx="2.6" fill="#0a0a0a" opacity="1" filter="url(#bl)"/>
<rect x="83.0" y="260.4" width="20.0" height="3.8" rx="1.9" fill="#909090" opacity="1" filter="url(#bl)"/>
<rect x="110.0" y="254.6" width="24.0" height="5.4" rx="2.6" fill="#b4b4b4" opacity="1" filter="url(#bl)"/>
<rect x="53.9" y="277.4" width="26.1" height="8.0" rx="2.6" fill="#0a0a0a" opacity="1" filter="url(#bl)"/>
<rect x="83.0" y="277.6" width="26.4" height="8.0" rx="2.6" fill="#0a0a0a" opacity="1" filter="url(#bl)"/>
<rect x="113.0" y="277.8" width="26.4" height="7.8" rx="2.6" fill="#0a0a0a" opacity="1" filter="url(#bl)"/>
<rect x="54.0" y="305.6" width="24.3" height="6.2" rx="2.6" fill="#0d0d0d" opacity="1" filter="url(#bl)"/>
<rect x="84.7" y="306.8" width="20.1" height="5.4" rx="2.6" fill="#5a5a5a" opacity="1" filter="url(#bl)"/>
<rect x="54.6" y="333.4" width="22.8" height="6.8" rx="2.6" fill="#151515" opacity="1" filter="url(#bl)"/>
<rect x="83.8" y="334.3" width="22.0" height="7.7" rx="2.6" fill="#080808" opacity="1" filter="url(#bl)"/>
<rect x="112.2" y="336.1" width="24.6" height="6.8" rx="2.6" fill="#a4a4a4" opacity="1" filter="url(#bl)"/>
<rect x="56.0" y="367.5" width="22.0" height="7.5" rx="2.6" fill="#d2d2d2" opacity="1" filter="url(#bl2)"/>
<rect x="86.0" y="368.5" width="20.0" height="6.5" rx="2.6" fill="#c8c8c8" opacity="1" filter="url(#bl2)"/>
<rect x="56.4" y="361.6" width="21.0" height="7.2" rx="2.6" fill="#333" opacity="1" filter="url(#bl)"/>
<rect x="55.8" y="357.0" width="1.8" height="18.0" rx="2.6" fill="#777" opacity="1" filter="url(#bl)"/>
<rect x="85.6" y="360.6" width="20.2" height="10.0" rx="2.6" fill="#080808" opacity="1" filter="url(#bl)"/>
<rect x="114.9" y="362.8" width="21.0" height="5.9" rx="2.6" fill="#8e8e8e" opacity="1" filter="url(#bl)"/>
<rect x="54.6" y="386.5" width="22.8" height="8.7" rx="2.6" fill="#0c0c0c" opacity="1" filter="url(#bl)"/>
<rect x="84.7" y="389.2" width="20.1" height="7.8" rx="2.6" fill="#0c0c0c" opacity="1" filter="url(#bl)"/>
<rect x="114.9" y="390.2" width="21.9" height="5.9" rx="2.6" fill="#9a9a9a" opacity="1" filter="url(#bl)"/>
<rect x="55.5" y="415.8" width="22.8" height="6.2" rx="2.6" fill="#2a2a2a" opacity="1" filter="url(#bl)"/>
<rect x="85.6" y="417.6" width="21.1" height="5.9" rx="2.6" fill="#080808" opacity="1" filter="url(#bl)"/>
<rect x="114.9" y="418.0" width="22.9" height="5.5" rx="2.6" fill="#7a7a7a" opacity="1" filter="url(#bl)"/>
<rect x="55.1" y="446.8" width="24.5" height="6.3" rx="2.6" fill="#2c2c2c" opacity="1" filter="url(#bl)"/>
<rect x="82.9" y="447.8" width="24.7" height="6.8" rx="2.6" fill="#333" opacity="1" filter="url(#bl)"/>
<rect x="110.9" y="448.7" width="27.4" height="7.7" rx="2.6" fill="#111" opacity="1" filter="url(#bl)"/>
<path d="M54,477.6 L126,477.7 Q135,478.0 139.4,480.0 L139.4,484.4 Q134,483.0 126,482.9 L54,482.8 Q52,480.2 54,477.6 Z" fill="#060606" filter="url(#bl)"/>
<line x1="237.20" y1="240.50" x2="237.20" y2="333.00" stroke="#0a0a0a" stroke-width="1.25"/>
<line x1="234.60" y1="332.50" x2="287.50" y2="332.50" stroke="#0a0a0a" stroke-width="1.25"/>
<line x1="234.40" y1="242.50" x2="237.20" y2="242.50" stroke="#0a0a0a" stroke-width="1.1"/>
<text x="231.00" y="245.60" font-size="8.6" text-anchor="end" textLength="9.9" lengthAdjust="spacingAndGlyphs" fill="#2a2a2a" stroke="#2a2a2a" stroke-width="0.22">1.5</text>
<line x1="234.40" y1="272.50" x2="237.20" y2="272.50" stroke="#0a0a0a" stroke-width="1.1"/>
<text x="231.00" y="275.60" font-size="8.6" text-anchor="end" textLength="9.9" lengthAdjust="spacingAndGlyphs" fill="#2a2a2a" stroke="#2a2a2a" stroke-width="0.22">1.0</text>
<line x1="234.40" y1="302.50" x2="237.20" y2="302.50" stroke="#0a0a0a" stroke-width="1.1"/>
<text x="231.00" y="305.60" font-size="8.6" text-anchor="end" textLength="9.9" lengthAdjust="spacingAndGlyphs" fill="#2a2a2a" stroke="#2a2a2a" stroke-width="0.22">0.5</text>
<line x1="234.40" y1="332.50" x2="237.20" y2="332.50" stroke="#0a0a0a" stroke-width="1.1"/>
<text x="231.00" y="335.60" font-size="8.6" text-anchor="end" textLength="9.9" lengthAdjust="spacingAndGlyphs" fill="#2a2a2a" stroke="#2a2a2a" stroke-width="0.22">0.0</text>
<line x1="251.60" y1="332.50" x2="251.60" y2="334.90" stroke="#0a0a0a" stroke-width="0.9"/>
<line x1="273.40" y1="332.50" x2="273.40" y2="334.90" stroke="#0a0a0a" stroke-width="0.9"/>
<text x="0" y="0" font-size="7.9" fill="#3a3a3a" stroke="#3a3a3a" stroke-width="0.1" text-anchor="end" transform="translate(255.0 342.9) rotate(-45)">Interm.</text>
<text x="0" y="0" font-size="7.9" fill="#3a3a3a" stroke="#3a3a3a" stroke-width="0.1" text-anchor="end" transform="translate(276.8 342.9) rotate(-45)">Late</text>
<text x="0" y="0" font-size="8.4" fill="#222" stroke="#222" stroke-width="0.22" text-anchor="middle" textLength="78" lengthAdjust="spacingAndGlyphs" transform="translate(214.5 286.0) rotate(-90)">Sirt1 normalized to loading</text>
<line x1="251.60" y1="272.50" x2="273.40" y2="295.90" stroke="#444" stroke-width="0.65" stroke-dasharray="0.9,0.7"/>
<line x1="251.60" y1="272.50" x2="273.40" y2="314.50" stroke="#444" stroke-width="0.65" stroke-dasharray="0.9,0.7"/>
<line x1="251.60" y1="272.50" x2="273.40" y2="327.70" stroke="#444" stroke-width="0.65" stroke-dasharray="0.9,0.7"/>
<circle cx="251.6" cy="272.5" r="3.0" fill="#d6d6d6" stroke="#6a6a6a" stroke-width="0.9"/>
<circle cx="273.4" cy="295.9" r="3.15" fill="#5e3b19" stroke="#2b1a08" stroke-width="0.8"/>
<circle cx="273.4" cy="314.5" r="3.15" fill="#5e3b19" stroke="#2b1a08" stroke-width="0.8"/>
<circle cx="273.4" cy="327.7" r="3.15" fill="#5e3b19" stroke="#2b1a08" stroke-width="0.8"/>
<line x1="251.60" y1="261.30" x2="273.40" y2="261.30" stroke="#333" stroke-width="1.0"/>
<text x="262.50" y="260.30" font-size="7.4" text-anchor="middle" fill="#222" stroke="#222" stroke-width="0.22">*</text>
<line x1="345.70" y1="240.90" x2="345.70" y2="284.40" stroke="#0a0a0a" stroke-width="1.25"/>
<line x1="345.70" y1="291.10" x2="345.70" y2="332.80" stroke="#0a0a0a" stroke-width="1.25"/>
<line x1="343.10" y1="284.40" x2="348.30" y2="284.40" stroke="#0a0a0a" stroke-width="1.2"/>
<line x1="343.10" y1="291.10" x2="348.30" y2="291.10" stroke="#0a0a0a" stroke-width="1.2"/>
<line x1="343.10" y1="332.30" x2="395.00" y2="332.30" stroke="#0a0a0a" stroke-width="1.25"/>
<line x1="342.90" y1="242.80" x2="345.70" y2="242.80" stroke="#0a0a0a" stroke-width="1.1"/>
<text x="339.50" y="245.90" font-size="8.6" text-anchor="end" textLength="9.9" lengthAdjust="spacingAndGlyphs" fill="#2a2a2a" stroke="#2a2a2a" stroke-width="0.22">1.5</text>
<line x1="342.90" y1="258.40" x2="345.70" y2="258.40" stroke="#0a0a0a" stroke-width="1.1"/>
<text x="339.50" y="261.50" font-size="8.6" text-anchor="end" textLength="9.9" lengthAdjust="spacingAndGlyphs" fill="#2a2a2a" stroke="#2a2a2a" stroke-width="0.22">1.0</text>
<line x1="342.90" y1="274.00" x2="345.70" y2="274.00" stroke="#0a0a0a" stroke-width="1.1"/>
<text x="339.50" y="277.10" font-size="8.6" text-anchor="end" textLength="9.9" lengthAdjust="spacingAndGlyphs" fill="#2a2a2a" stroke="#2a2a2a" stroke-width="0.22">0.5</text>
<line x1="342.90" y1="291.80" x2="345.70" y2="291.80" stroke="#0a0a0a" stroke-width="1.1"/>
<text x="339.50" y="294.90" font-size="8.6" text-anchor="end" textLength="9.9" lengthAdjust="spacingAndGlyphs" fill="#2a2a2a" stroke="#2a2a2a" stroke-width="0.22">0.2</text>
<line x1="342.90" y1="312.05" x2="345.70" y2="312.05" stroke="#0a0a0a" stroke-width="1.1"/>
<text x="339.50" y="315.15" font-size="8.6" text-anchor="end" textLength="9.9" lengthAdjust="spacingAndGlyphs" fill="#2a2a2a" stroke="#2a2a2a" stroke-width="0.22">0.1</text>
<line x1="342.90" y1="332.30" x2="345.70" y2="332.30" stroke="#0a0a0a" stroke-width="1.1"/>
<text x="339.50" y="335.40" font-size="8.6" text-anchor="end" textLength="9.9" lengthAdjust="spacingAndGlyphs" fill="#2a2a2a" stroke="#2a2a2a" stroke-width="0.22">0.0</text>
<line x1="360.10" y1="332.30" x2="360.10" y2="334.70" stroke="#0a0a0a" stroke-width="0.9"/>
<line x1="381.50" y1="332.30" x2="381.50" y2="334.70" stroke="#0a0a0a" stroke-width="0.9"/>
<text x="0" y="0" font-size="7.9" fill="#3a3a3a" stroke="#3a3a3a" stroke-width="0.1" text-anchor="end" transform="translate(363.5 342.7) rotate(-45)">Interm.</text>
<text x="0" y="0" font-size="7.9" fill="#3a3a3a" stroke="#3a3a3a" stroke-width="0.1" text-anchor="end" transform="translate(384.9 342.7) rotate(-45)">Late</text>
<line x1="360.10" y1="258.40" x2="381.50" y2="308.00" stroke="#444" stroke-width="0.65" stroke-dasharray="0.9,0.7"/>
<line x1="360.10" y1="258.40" x2="381.50" y2="320.15" stroke="#444" stroke-width="0.65" stroke-dasharray="0.9,0.7"/>
<circle cx="360.1" cy="258.4" r="3.0" fill="#d6d6d6" stroke="#6a6a6a" stroke-width="0.9"/>
<circle cx="381.5" cy="308.0" r="3.15" fill="#5e3b19" stroke="#2b1a08" stroke-width="0.8"/>
<circle cx="381.5" cy="320.2" r="3.15" fill="#5e3b19" stroke="#2b1a08" stroke-width="0.8"/>
<line x1="360.10" y1="247.90" x2="381.50" y2="247.90" stroke="#333" stroke-width="1.0"/>
<text x="370.80" y="246.90" font-size="7.4" text-anchor="middle" fill="#222" stroke="#222" stroke-width="0.22">***</text>
<text x="0" y="0" font-size="7.9" fill="#222" stroke="#222" stroke-width="0.22" text-anchor="middle" textLength="61.5" lengthAdjust="spacingAndGlyphs" transform="translate(311.1 286.6) rotate(-90)">P-AMPKα (Thr172)</text>
<text x="0" y="0" font-size="8.2" fill="#222" stroke="#222" stroke-width="0.22" text-anchor="middle" textLength="61.5" lengthAdjust="spacingAndGlyphs" transform="translate(321.8 285.6) rotate(-90)">normalized to loading</text>
<line x1="441.80" y1="240.90" x2="441.80" y2="332.70" stroke="#0a0a0a" stroke-width="1.25"/>
<line x1="439.20" y1="332.20" x2="492.00" y2="332.20" stroke="#0a0a0a" stroke-width="1.25"/>
<line x1="439.00" y1="242.80" x2="441.80" y2="242.80" stroke="#0a0a0a" stroke-width="1.1"/>
<text x="435.60" y="245.90" font-size="8.6" text-anchor="end" textLength="9.9" lengthAdjust="spacingAndGlyphs" fill="#2a2a2a" stroke="#2a2a2a" stroke-width="0.22">1.5</text>
<line x1="439.00" y1="272.60" x2="441.80" y2="272.60" stroke="#0a0a0a" stroke-width="1.1"/>
<text x="435.60" y="275.70" font-size="8.6" text-anchor="end" textLength="9.9" lengthAdjust="spacingAndGlyphs" fill="#2a2a2a" stroke="#2a2a2a" stroke-width="0.22">1.0</text>
<line x1="439.00" y1="302.40" x2="441.80" y2="302.40" stroke="#0a0a0a" stroke-width="1.1"/>
<text x="435.60" y="305.50" font-size="8.6" text-anchor="end" textLength="9.9" lengthAdjust="spacingAndGlyphs" fill="#2a2a2a" stroke="#2a2a2a" stroke-width="0.22">0.5</text>
<line x1="439.00" y1="332.20" x2="441.80" y2="332.20" stroke="#0a0a0a" stroke-width="1.1"/>
<text x="435.60" y="335.30" font-size="8.6" text-anchor="end" textLength="9.9" lengthAdjust="spacingAndGlyphs" fill="#2a2a2a" stroke="#2a2a2a" stroke-width="0.22">0.0</text>
<line x1="456.20" y1="332.20" x2="456.20" y2="334.60" stroke="#0a0a0a" stroke-width="0.9"/>
<line x1="477.60" y1="332.20" x2="477.60" y2="334.60" stroke="#0a0a0a" stroke-width="0.9"/>
<text x="0" y="0" font-size="7.9" fill="#3a3a3a" stroke="#3a3a3a" stroke-width="0.1" text-anchor="end" transform="translate(459.6 342.6) rotate(-45)">Interm.</text>
<text x="0" y="0" font-size="7.9" fill="#3a3a3a" stroke="#3a3a3a" stroke-width="0.1" text-anchor="end" transform="translate(481.0 342.6) rotate(-45)">Late</text>
<text x="0" y="0" font-size="8.4" fill="#222" stroke="#222" stroke-width="0.22" text-anchor="middle" textLength="79.5" lengthAdjust="spacingAndGlyphs" transform="translate(419.6 286.5) rotate(-90)">NRF2 normalized to loading</text>
<line x1="456.20" y1="272.60" x2="477.60" y2="304.19" stroke="#444" stroke-width="0.65" stroke-dasharray="0.9,0.7"/>
<line x1="456.20" y1="272.60" x2="477.60" y2="314.32" stroke="#444" stroke-width="0.65" stroke-dasharray="0.9,0.7"/>
<circle cx="456.2" cy="272.6" r="3.0" fill="#d6d6d6" stroke="#6a6a6a" stroke-width="0.9"/>
<circle cx="477.6" cy="304.2" r="3.15" fill="#5e3b19" stroke="#2b1a08" stroke-width="0.8"/>
<circle cx="477.6" cy="314.3" r="3.15" fill="#5e3b19" stroke="#2b1a08" stroke-width="0.8"/>
<line x1="456.20" y1="261.60" x2="477.60" y2="261.60" stroke="#333" stroke-width="1.0"/>
<text x="466.90" y="260.60" font-size="7.4" text-anchor="middle" fill="#222" stroke="#222" stroke-width="0.22">*</text>
<line x1="295.00" y1="378.20" x2="295.00" y2="422.40" stroke="#0a0a0a" stroke-width="1.25"/>
<line x1="295.00" y1="429.20" x2="295.00" y2="471.20" stroke="#0a0a0a" stroke-width="1.25"/>
<line x1="292.40" y1="422.40" x2="297.60" y2="422.40" stroke="#0a0a0a" stroke-width="1.2"/>
<line x1="292.40" y1="429.20" x2="297.60" y2="429.20" stroke="#0a0a0a" stroke-width="1.2"/>
<line x1="292.40" y1="470.70" x2="344.00" y2="470.70" stroke="#0a0a0a" stroke-width="1.25"/>
<line x1="292.20" y1="381.50" x2="295.00" y2="381.50" stroke="#0a0a0a" stroke-width="1.1"/>
<text x="288.80" y="384.60" font-size="8.6" text-anchor="end" textLength="9.9" lengthAdjust="spacingAndGlyphs" fill="#2a2a2a" stroke="#2a2a2a" stroke-width="0.22">1.5</text>
<line x1="292.20" y1="397.10" x2="295.00" y2="397.10" stroke="#0a0a0a" stroke-width="1.1"/>
<text x="288.80" y="400.20" font-size="8.6" text-anchor="end" textLength="9.9" lengthAdjust="spacingAndGlyphs" fill="#2a2a2a" stroke="#2a2a2a" stroke-width="0.22">1.0</text>
<line x1="292.20" y1="412.70" x2="295.00" y2="412.70" stroke="#0a0a0a" stroke-width="1.1"/>
<text x="288.80" y="415.80" font-size="8.6" text-anchor="end" textLength="9.9" lengthAdjust="spacingAndGlyphs" fill="#2a2a2a" stroke="#2a2a2a" stroke-width="0.22">0.5</text>
<line x1="292.20" y1="430.20" x2="295.00" y2="430.20" stroke="#0a0a0a" stroke-width="1.1"/>
<text x="288.80" y="433.30" font-size="8.6" text-anchor="end" textLength="9.9" lengthAdjust="spacingAndGlyphs" fill="#2a2a2a" stroke="#2a2a2a" stroke-width="0.22">0.2</text>
<line x1="292.20" y1="450.45" x2="295.00" y2="450.45" stroke="#0a0a0a" stroke-width="1.1"/>
<text x="288.80" y="453.55" font-size="8.6" text-anchor="end" textLength="9.9" lengthAdjust="spacingAndGlyphs" fill="#2a2a2a" stroke="#2a2a2a" stroke-width="0.22">0.1</text>
<line x1="292.20" y1="470.70" x2="295.00" y2="470.70" stroke="#0a0a0a" stroke-width="1.1"/>
<text x="288.80" y="473.80" font-size="8.6" text-anchor="end" textLength="9.9" lengthAdjust="spacingAndGlyphs" fill="#2a2a2a" stroke="#2a2a2a" stroke-width="0.22">0.0</text>
<line x1="309.00" y1="470.70" x2="309.00" y2="473.10" stroke="#0a0a0a" stroke-width="0.9"/>
<line x1="330.80" y1="470.70" x2="330.80" y2="473.10" stroke="#0a0a0a" stroke-width="0.9"/>
<text x="0" y="0" font-size="7.9" fill="#3a3a3a" stroke="#3a3a3a" stroke-width="0.1" text-anchor="end" transform="translate(312.4 481.1) rotate(-45)">Interm.</text>
<text x="0" y="0" font-size="7.9" fill="#3a3a3a" stroke="#3a3a3a" stroke-width="0.1" text-anchor="end" transform="translate(334.2 481.1) rotate(-45)">Late</text>
<text x="0" y="0" font-size="8.4" fill="#222" stroke="#222" stroke-width="0.22" text-anchor="middle" textLength="80" lengthAdjust="spacingAndGlyphs" transform="translate(271.7 421.7) rotate(-90)">OPA1 normalized to loading</text>
<line x1="309.00" y1="397.10" x2="330.80" y2="412.70" stroke="#444" stroke-width="0.65" stroke-dasharray="0.9,0.7"/>
<line x1="309.00" y1="397.10" x2="330.80" y2="434.25" stroke="#444" stroke-width="0.65" stroke-dasharray="0.9,0.7"/>
<line x1="309.00" y1="397.10" x2="330.80" y2="446.40" stroke="#444" stroke-width="0.65" stroke-dasharray="0.9,0.7"/>
<circle cx="309.0" cy="397.1" r="3.0" fill="#d6d6d6" stroke="#6a6a6a" stroke-width="0.9"/>
<circle cx="330.8" cy="412.7" r="3.15" fill="#5e3b19" stroke="#2b1a08" stroke-width="0.8"/>
<circle cx="330.8" cy="434.2" r="3.15" fill="#5e3b19" stroke="#2b1a08" stroke-width="0.8"/>
<circle cx="330.8" cy="446.4" r="3.15" fill="#5e3b19" stroke="#2b1a08" stroke-width="0.8"/>
<line x1="309.00" y1="385.90" x2="330.80" y2="385.90" stroke="#333" stroke-width="1.0"/>
<text x="319.90" y="384.90" font-size="7.4" text-anchor="middle" fill="#222" stroke="#222" stroke-width="0.22">**</text>
<line x1="390.60" y1="378.20" x2="390.60" y2="422.40" stroke="#0a0a0a" stroke-width="1.25"/>
<line x1="390.60" y1="429.20" x2="390.60" y2="471.20" stroke="#0a0a0a" stroke-width="1.25"/>
<line x1="388.00" y1="422.40" x2="393.20" y2="422.40" stroke="#0a0a0a" stroke-width="1.2"/>
<line x1="388.00" y1="429.20" x2="393.20" y2="429.20" stroke="#0a0a0a" stroke-width="1.2"/>
<line x1="388.00" y1="470.70" x2="441.00" y2="470.70" stroke="#0a0a0a" stroke-width="1.25"/>
<line x1="387.80" y1="381.50" x2="390.60" y2="381.50" stroke="#0a0a0a" stroke-width="1.1"/>
<text x="384.40" y="384.60" font-size="8.6" text-anchor="end" textLength="9.9" lengthAdjust="spacingAndGlyphs" fill="#2a2a2a" stroke="#2a2a2a" stroke-width="0.22">1.5</text>
<line x1="387.80" y1="397.10" x2="390.60" y2="397.10" stroke="#0a0a0a" stroke-width="1.1"/>
<text x="384.40" y="400.20" font-size="8.6" text-anchor="end" textLength="9.9" lengthAdjust="spacingAndGlyphs" fill="#2a2a2a" stroke="#2a2a2a" stroke-width="0.22">1.0</text>
<line x1="387.80" y1="412.70" x2="390.60" y2="412.70" stroke="#0a0a0a" stroke-width="1.1"/>
<text x="384.40" y="415.80" font-size="8.6" text-anchor="end" textLength="9.9" lengthAdjust="spacingAndGlyphs" fill="#2a2a2a" stroke="#2a2a2a" stroke-width="0.22">0.5</text>
<line x1="387.80" y1="430.20" x2="390.60" y2="430.20" stroke="#0a0a0a" stroke-width="1.1"/>
<text x="384.40" y="433.30" font-size="8.6" text-anchor="end" textLength="9.9" lengthAdjust="spacingAndGlyphs" fill="#2a2a2a" stroke="#2a2a2a" stroke-width="0.22">0.2</text>
<line x1="387.80" y1="450.45" x2="390.60" y2="450.45" stroke="#0a0a0a" stroke-width="1.1"/>
<text x="384.40" y="453.55" font-size="8.6" text-anchor="end" textLength="9.9" lengthAdjust="spacingAndGlyphs" fill="#2a2a2a" stroke="#2a2a2a" stroke-width="0.22">0.1</text>
<line x1="387.80" y1="470.70" x2="390.60" y2="470.70" stroke="#0a0a0a" stroke-width="1.1"/>
<text x="384.40" y="473.80" font-size="8.6" text-anchor="end" textLength="9.9" lengthAdjust="spacingAndGlyphs" fill="#2a2a2a" stroke="#2a2a2a" stroke-width="0.22">0.0</text>
<line x1="405.30" y1="470.70" x2="405.30" y2="473.10" stroke="#0a0a0a" stroke-width="0.9"/>
<line x1="427.10" y1="470.70" x2="427.10" y2="473.10" stroke="#0a0a0a" stroke-width="0.9"/>
<text x="0" y="0" font-size="7.9" fill="#3a3a3a" stroke="#3a3a3a" stroke-width="0.1" text-anchor="end" transform="translate(408.7 481.1) rotate(-45)">Interm.</text>
<text x="0" y="0" font-size="7.9" fill="#3a3a3a" stroke="#3a3a3a" stroke-width="0.1" text-anchor="end" transform="translate(430.5 481.1) rotate(-45)">Late</text>
<text x="0" y="0" font-size="8.4" fill="#222" stroke="#222" stroke-width="0.22" text-anchor="middle" textLength="82" lengthAdjust="spacingAndGlyphs" transform="translate(367.9 423.0) rotate(-90)">Drp1 normalized to loading</text>
<line x1="405.30" y1="397.10" x2="427.10" y2="409.58" stroke="#444" stroke-width="0.65" stroke-dasharray="0.9,0.7"/>
<line x1="405.30" y1="397.10" x2="427.10" y2="454.50" stroke="#444" stroke-width="0.65" stroke-dasharray="0.9,0.7"/>
<line x1="405.30" y1="397.10" x2="427.10" y2="468.68" stroke="#444" stroke-width="0.65" stroke-dasharray="0.9,0.7"/>
<circle cx="405.3" cy="397.1" r="3.0" fill="#d6d6d6" stroke="#6a6a6a" stroke-width="0.9"/>
<circle cx="427.1" cy="409.6" r="3.15" fill="#5e3b19" stroke="#2b1a08" stroke-width="0.8"/>
<circle cx="427.1" cy="454.5" r="3.15" fill="#5e3b19" stroke="#2b1a08" stroke-width="0.8"/>
<circle cx="427.1" cy="468.7" r="3.15" fill="#5e3b19" stroke="#2b1a08" stroke-width="0.8"/>
<line x1="405.30" y1="385.90" x2="427.10" y2="385.90" stroke="#333" stroke-width="1.0"/>
<text x="416.20" y="384.90" font-size="7.4" text-anchor="middle" fill="#222" stroke="#222" stroke-width="0.22">*</text>
</svg></body></html>
